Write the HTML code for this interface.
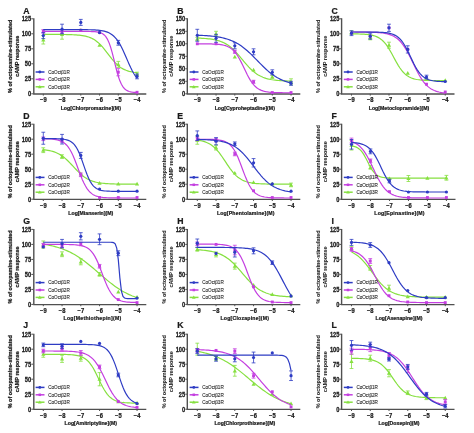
<!DOCTYPE html>
<html><head><meta charset="utf-8"><style>
html,body{margin:0;padding:0;background:#fff;}
svg{display:block;font-family:"Liberation Sans", sans-serif;filter:blur(0.3px);} text.b{stroke:#1a1a1a;stroke-width:0.22px;} text.m{stroke:#1a1a1a;stroke-width:0.04px;} text.l{stroke:#2a2a2a;stroke-width:0.1px;}
</style></head><body>
<svg width="474" height="433" viewBox="0 0 474 433">
<rect width="474" height="433" fill="#fff"/>
<g><text x="23.3" y="13.7" font-size="8.7" font-weight="bold" class="b" fill="#1a1a1a">A</text><text transform="translate(11.7 56.3) rotate(-90) scale(1 1.12)" text-anchor="middle" font-size="5.5" font-weight="bold" class="b" fill="#1a1a1a">% of octopamine-stimulated</text><text transform="translate(18.6 56.3) rotate(-90) scale(1 1.12)" text-anchor="middle" font-size="5.5" font-weight="bold" class="b" fill="#1a1a1a">cAMP response</text><line x1="31.3" y1="93.8" x2="33.3" y2="93.8" stroke="#505050" stroke-width="1"/><text transform="translate(31.2 96.1) scale(1 1.18)" text-anchor="end" font-size="5.7" font-weight="bold" class="b" fill="#1a1a1a">0</text><line x1="31.3" y1="78.8" x2="33.3" y2="78.8" stroke="#505050" stroke-width="1"/><text transform="translate(31.2 81.1) scale(1 1.18)" text-anchor="end" font-size="5.7" font-weight="bold" class="b" fill="#1a1a1a">25</text><line x1="31.3" y1="63.8" x2="33.3" y2="63.8" stroke="#505050" stroke-width="1"/><text transform="translate(31.2 66.1) scale(1 1.18)" text-anchor="end" font-size="5.7" font-weight="bold" class="b" fill="#1a1a1a">50</text><line x1="31.3" y1="48.8" x2="33.3" y2="48.8" stroke="#505050" stroke-width="1"/><text transform="translate(31.2 51.1) scale(1 1.18)" text-anchor="end" font-size="5.7" font-weight="bold" class="b" fill="#1a1a1a">75</text><line x1="31.3" y1="33.8" x2="33.3" y2="33.8" stroke="#505050" stroke-width="1"/><text transform="translate(31.2 36.1) scale(1 1.18)" text-anchor="end" font-size="5.7" font-weight="bold" class="b" fill="#1a1a1a">100</text><line x1="31.3" y1="18.8" x2="33.3" y2="18.8" stroke="#505050" stroke-width="1"/><text transform="translate(31.2 21.1) scale(1 1.18)" text-anchor="end" font-size="5.7" font-weight="bold" class="b" fill="#1a1a1a">125</text><line x1="43.3" y1="93.8" x2="43.3" y2="95.6" stroke="#505050" stroke-width="1"/><text transform="translate(43.3 102.4) scale(1 1.12)" text-anchor="middle" font-size="5.8" font-weight="bold" class="b" fill="#1a1a1a">−9</text><line x1="62.05" y1="93.8" x2="62.05" y2="95.6" stroke="#505050" stroke-width="1"/><text transform="translate(62.05 102.4) scale(1 1.12)" text-anchor="middle" font-size="5.8" font-weight="bold" class="b" fill="#1a1a1a">−8</text><line x1="80.8" y1="93.8" x2="80.8" y2="95.6" stroke="#505050" stroke-width="1"/><text transform="translate(80.8 102.4) scale(1 1.12)" text-anchor="middle" font-size="5.8" font-weight="bold" class="b" fill="#1a1a1a">−7</text><line x1="99.55" y1="93.8" x2="99.55" y2="95.6" stroke="#505050" stroke-width="1"/><text transform="translate(99.55 102.4) scale(1 1.12)" text-anchor="middle" font-size="5.8" font-weight="bold" class="b" fill="#1a1a1a">−6</text><line x1="118.3" y1="93.8" x2="118.3" y2="95.6" stroke="#505050" stroke-width="1"/><text transform="translate(118.3 102.4) scale(1 1.12)" text-anchor="middle" font-size="5.8" font-weight="bold" class="b" fill="#1a1a1a">−5</text><line x1="137.05" y1="93.8" x2="137.05" y2="95.6" stroke="#505050" stroke-width="1"/><text transform="translate(137.05 102.4) scale(1 1.12)" text-anchor="middle" font-size="5.8" font-weight="bold" class="b" fill="#1a1a1a">−4</text><text transform="translate(90.78 109.6) scale(1 1.1)" text-anchor="middle" font-size="5.2" letter-spacing="0" font-weight="bold" class="b" fill="#1a1a1a">Log[Chlorpromazine](M)</text><path d="M33.8 18.3V94H146.3" fill="none" stroke="#505050" stroke-width="1.4"/><path d="M43.3 34.41L44.86 34.41L46.42 34.41L47.99 34.41L49.55 34.41L51.11 34.42L52.67 34.42L54.24 34.43L55.8 34.43L57.36 34.44L58.93 34.45L60.49 34.46L62.05 34.48L63.61 34.5L65.18 34.52L66.74 34.55L68.3 34.58L69.86 34.62L71.42 34.68L72.99 34.74L74.55 34.82L76.11 34.92L77.67 35.04L79.24 35.19L80.8 35.37L82.36 35.59L83.92 35.86L85.49 36.18L87.05 36.58L88.61 37.05L90.17 37.63L91.74 38.31L93.3 39.11L94.86 40.06L96.43 41.16L97.99 42.42L99.55 43.85L101.11 45.44L102.67 47.19L104.24 49.06L105.8 51.04L107.36 53.08L108.92 55.13L110.49 57.16L112.05 59.12L113.61 60.97L115.18 62.69L116.74 64.25L118.3 65.64L119.86 66.87L121.42 67.94L122.99 68.86L124.55 69.64L126.11 70.3L127.67 70.85L129.24 71.31L130.8 71.69L132.36 72L133.93 72.26L135.49 72.47L137.05 72.65" fill="none" stroke="#86e040" stroke-width="1.2"/><path d="M43.3 35.6V44M41.4 35.6H45.2M41.4 44H45.2" stroke="#86e040" stroke-width="0.8" fill="none"/><path d="M43.3 37.72L45.38 41.4L41.22 41.4Z" fill="#86e040"/><path d="M62.05 29.6V39.2M60.15 29.6H63.95M60.15 39.2H63.95" stroke="#86e040" stroke-width="0.8" fill="none"/><path d="M62.05 32.32L64.13 36L59.97 36Z" fill="#86e040"/><path d="M80.8 28.12L82.88 31.8L78.72 31.8Z" fill="#86e040"/><path d="M99.55 43.12L101.63 46.8L97.47 46.8Z" fill="#86e040"/><path d="M118.3 61.4V67.4M116.4 61.4H120.2M116.4 67.4H120.2" stroke="#86e040" stroke-width="0.8" fill="none"/><path d="M118.3 62.32L120.38 66L116.22 66Z" fill="#86e040"/><path d="M137.05 72.2V75.8M135.15 72.2H138.95M135.15 75.8H138.95" stroke="#86e040" stroke-width="0.8" fill="none"/><path d="M137.05 71.92L139.13 75.6L134.97 75.6Z" fill="#86e040"/><path d="M43.3 31.4L44.86 31.4L46.42 31.4L47.99 31.4L49.55 31.4L51.11 31.4L52.67 31.4L54.24 31.4L55.8 31.4L57.36 31.4L58.93 31.4L60.49 31.4L62.05 31.4L63.61 31.4L65.18 31.4L66.74 31.4L68.3 31.4L69.86 31.4L71.42 31.4L72.99 31.4L74.55 31.4L76.11 31.4L77.67 31.4L79.24 31.4L80.8 31.41L82.36 31.41L83.92 31.42L85.49 31.42L87.05 31.44L88.61 31.46L90.17 31.48L91.74 31.53L93.3 31.6L94.86 31.7L96.43 31.85L97.99 32.09L99.55 32.45L101.11 32.98L102.67 33.78L104.24 34.95L105.8 36.66L107.36 39.08L108.92 42.39L110.49 46.71L112.05 52.04L113.61 58.15L115.18 64.58L116.74 70.79L118.3 76.3L119.86 80.83L121.42 84.34L122.99 86.92L124.55 88.75L126.11 90.02L127.67 90.88L129.24 91.46L130.8 91.85L132.36 92.11L133.93 92.28L135.49 92.39L137.05 92.46" fill="none" stroke="#c43fe0" stroke-width="1.2"/><path d="M43.3 29.6V33.2M41.4 29.6H45.2M41.4 33.2H45.2" stroke="#c43fe0" stroke-width="0.8" fill="none"/><rect x="41.86" y="29.96" width="2.88" height="2.88" fill="#c43fe0"/><path d="M62.05 29.6V33.2M60.15 29.6H63.95M60.15 33.2H63.95" stroke="#c43fe0" stroke-width="0.8" fill="none"/><rect x="60.61" y="29.96" width="2.88" height="2.88" fill="#c43fe0"/><rect x="79.36" y="28.76" width="2.88" height="2.88" fill="#c43fe0"/><rect x="98.11" y="31.16" width="2.88" height="2.88" fill="#c43fe0"/><path d="M118.3 68.6V75.8M116.4 68.6H120.2M116.4 75.8H120.2" stroke="#c43fe0" stroke-width="0.8" fill="none"/><rect x="116.86" y="70.76" width="2.88" height="2.88" fill="#c43fe0"/><rect x="135.61" y="90.86" width="2.88" height="2.88" fill="#c43fe0"/><path d="M43.3 29.6L44.86 29.6L46.42 29.6L47.99 29.6L49.55 29.6L51.11 29.6L52.67 29.6L54.24 29.6L55.8 29.6L57.36 29.6L58.93 29.6L60.49 29.6L62.05 29.6L63.61 29.6L65.18 29.6L66.74 29.6L68.3 29.61L69.86 29.61L71.42 29.61L72.99 29.61L74.55 29.61L76.11 29.62L77.67 29.62L79.24 29.63L80.8 29.64L82.36 29.65L83.92 29.66L85.49 29.68L87.05 29.7L88.61 29.73L90.17 29.77L91.74 29.82L93.3 29.88L94.86 29.96L96.43 30.06L97.99 30.19L99.55 30.35L101.11 30.56L102.67 30.82L104.24 31.16L105.8 31.59L107.36 32.13L108.92 32.8L110.49 33.65L112.05 34.69L113.61 35.98L115.18 37.54L116.74 39.41L118.3 41.61L119.86 44.16L121.42 47.05L122.99 50.24L124.55 53.67L126.11 57.25L127.67 60.87L129.24 64.43L130.8 67.82L132.36 70.95L133.93 73.78L135.49 76.26L137.05 78.39" fill="none" stroke="#2e3cc4" stroke-width="1.2"/><path d="M43.3 32.6V38.6M41.4 32.6H45.2M41.4 38.6H45.2" stroke="#2e3cc4" stroke-width="0.8" fill="none"/><circle cx="43.3" cy="35.6" r="1.6" fill="#2e3cc4"/><path d="M62.05 24.2V33.8M60.15 24.2H63.95M60.15 33.8H63.95" stroke="#2e3cc4" stroke-width="0.8" fill="none"/><circle cx="62.05" cy="29" r="1.6" fill="#2e3cc4"/><path d="M80.8 19.4V25.4M78.9 19.4H82.7M78.9 25.4H82.7" stroke="#2e3cc4" stroke-width="0.8" fill="none"/><circle cx="80.8" cy="22.4" r="1.6" fill="#2e3cc4"/><circle cx="99.55" cy="32.6" r="1.6" fill="#2e3cc4"/><path d="M118.3 40.4V45.2M116.4 40.4H120.2M116.4 45.2H120.2" stroke="#2e3cc4" stroke-width="0.8" fill="none"/><circle cx="118.3" cy="42.8" r="1.6" fill="#2e3cc4"/><path d="M137.05 74V78.8M135.15 74H138.95M135.15 78.8H138.95" stroke="#2e3cc4" stroke-width="0.8" fill="none"/><circle cx="137.05" cy="76.4" r="1.6" fill="#2e3cc4"/><line x1="35.6" y1="72" x2="44.5" y2="72" stroke="#2e3cc4" stroke-width="1.5"/><circle cx="39.8" cy="72" r="1.4" fill="#2e3cc4"/><text x="48.2" y="73.7" font-size="4.6" fill="#2a2a2a" class="l">CoOctβ1R</text><line x1="35.6" y1="79.4" x2="44.5" y2="79.4" stroke="#c43fe0" stroke-width="1.5"/><rect x="38.54" y="78.14" width="2.52" height="2.52" fill="#c43fe0"/><text x="48.2" y="81.1" font-size="4.6" fill="#2a2a2a" class="l">CoOctβ2R</text><line x1="35.6" y1="86.8" x2="44.5" y2="86.8" stroke="#86e040" stroke-width="1.5"/><path d="M39.8 84.98L41.62 88.2L37.98 88.2Z" fill="#86e040"/><text x="48.2" y="88.5" font-size="4.6" fill="#2a2a2a" class="l">CoOctβ3R</text></g><g><text x="177.3" y="13.7" font-size="8.7" font-weight="bold" class="b" fill="#1a1a1a">B</text><text transform="translate(165.7 56.3) rotate(-90) scale(1 1.12)" text-anchor="middle" font-size="5.5" font-weight="bold" class="m" fill="#1a1a1a">% of octopamine-stimulated</text><text transform="translate(172.6 56.3) rotate(-90) scale(1 1.12)" text-anchor="middle" font-size="5.5" font-weight="bold" class="m" fill="#1a1a1a">cAMP response</text><line x1="185.3" y1="93.8" x2="187.3" y2="93.8" stroke="#505050" stroke-width="1"/><text transform="translate(185.2 96.1) scale(1 1.18)" text-anchor="end" font-size="5.7" font-weight="bold" class="b" fill="#1a1a1a">0</text><line x1="185.3" y1="81.3" x2="187.3" y2="81.3" stroke="#505050" stroke-width="1"/><text transform="translate(185.2 83.6) scale(1 1.18)" text-anchor="end" font-size="5.7" font-weight="bold" class="b" fill="#1a1a1a">25</text><line x1="185.3" y1="68.8" x2="187.3" y2="68.8" stroke="#505050" stroke-width="1"/><text transform="translate(185.2 71.1) scale(1 1.18)" text-anchor="end" font-size="5.7" font-weight="bold" class="b" fill="#1a1a1a">50</text><line x1="185.3" y1="56.3" x2="187.3" y2="56.3" stroke="#505050" stroke-width="1"/><text transform="translate(185.2 58.6) scale(1 1.18)" text-anchor="end" font-size="5.7" font-weight="bold" class="b" fill="#1a1a1a">75</text><line x1="185.3" y1="43.8" x2="187.3" y2="43.8" stroke="#505050" stroke-width="1"/><text transform="translate(185.2 46.1) scale(1 1.18)" text-anchor="end" font-size="5.7" font-weight="bold" class="b" fill="#1a1a1a">100</text><line x1="185.3" y1="31.3" x2="187.3" y2="31.3" stroke="#505050" stroke-width="1"/><text transform="translate(185.2 33.6) scale(1 1.18)" text-anchor="end" font-size="5.7" font-weight="bold" class="b" fill="#1a1a1a">125</text><line x1="185.3" y1="18.8" x2="187.3" y2="18.8" stroke="#505050" stroke-width="1"/><text transform="translate(185.2 21.1) scale(1 1.18)" text-anchor="end" font-size="5.7" font-weight="bold" class="b" fill="#1a1a1a">150</text><line x1="197.3" y1="93.8" x2="197.3" y2="95.6" stroke="#505050" stroke-width="1"/><text transform="translate(197.3 102.4) scale(1 1.12)" text-anchor="middle" font-size="5.8" font-weight="bold" class="b" fill="#1a1a1a">−9</text><line x1="216.05" y1="93.8" x2="216.05" y2="95.6" stroke="#505050" stroke-width="1"/><text transform="translate(216.05 102.4) scale(1 1.12)" text-anchor="middle" font-size="5.8" font-weight="bold" class="b" fill="#1a1a1a">−8</text><line x1="234.8" y1="93.8" x2="234.8" y2="95.6" stroke="#505050" stroke-width="1"/><text transform="translate(234.8 102.4) scale(1 1.12)" text-anchor="middle" font-size="5.8" font-weight="bold" class="b" fill="#1a1a1a">−7</text><line x1="253.55" y1="93.8" x2="253.55" y2="95.6" stroke="#505050" stroke-width="1"/><text transform="translate(253.55 102.4) scale(1 1.12)" text-anchor="middle" font-size="5.8" font-weight="bold" class="b" fill="#1a1a1a">−6</text><line x1="272.3" y1="93.8" x2="272.3" y2="95.6" stroke="#505050" stroke-width="1"/><text transform="translate(272.3 102.4) scale(1 1.12)" text-anchor="middle" font-size="5.8" font-weight="bold" class="b" fill="#1a1a1a">−5</text><line x1="291.05" y1="93.8" x2="291.05" y2="95.6" stroke="#505050" stroke-width="1"/><text transform="translate(291.05 102.4) scale(1 1.12)" text-anchor="middle" font-size="5.8" font-weight="bold" class="b" fill="#1a1a1a">−4</text><text transform="translate(244.78 109.6) scale(1 1.1)" text-anchor="middle" font-size="5.2" letter-spacing="0" font-weight="bold" class="b" fill="#1a1a1a">Log[Cyproheptadine](M)</text><path d="M187.3 18.3V94H300.3" fill="none" stroke="#505050" stroke-width="1.4"/><path d="M197.3 38.1L198.86 38.15L200.43 38.22L201.99 38.3L203.55 38.39L205.11 38.5L206.68 38.63L208.24 38.79L209.8 38.97L211.36 39.18L212.93 39.43L214.49 39.72L216.05 40.07L217.61 40.47L219.18 40.93L220.74 41.47L222.3 42.1L223.86 42.82L225.43 43.63L226.99 44.56L228.55 45.61L230.11 46.78L231.68 48.07L233.24 49.49L234.8 51.02L236.36 52.66L237.93 54.39L239.49 56.2L241.05 58.05L242.61 59.93L244.18 61.8L245.74 63.63L247.3 65.41L248.86 67.11L250.43 68.71L251.99 70.2L253.55 71.56L255.11 72.81L256.68 73.92L258.24 74.92L259.8 75.81L261.36 76.58L262.93 77.26L264.49 77.85L266.05 78.36L267.61 78.8L269.18 79.18L270.74 79.5L272.3 79.78L273.86 80.01L275.43 80.21L276.99 80.38L278.55 80.52L280.11 80.64L281.68 80.75L283.24 80.83L284.8 80.91L286.36 80.97L287.93 81.02L289.49 81.06L291.05 81.1" fill="none" stroke="#86e040" stroke-width="1.2"/><path d="M197.3 37.3V40.3M195.4 37.3H199.2M195.4 40.3H199.2" stroke="#86e040" stroke-width="0.8" fill="none"/><path d="M197.3 36.72L199.38 40.4L195.22 40.4Z" fill="#86e040"/><path d="M216.05 31.3V36.3M214.15 31.3H217.95M214.15 36.3H217.95" stroke="#86e040" stroke-width="0.8" fill="none"/><path d="M216.05 31.72L218.13 35.4L213.97 35.4Z" fill="#86e040"/><path d="M234.8 54.72L236.88 58.4L232.72 58.4Z" fill="#86e040"/><path d="M253.55 67.72L255.63 71.4L251.47 71.4Z" fill="#86e040"/><path d="M272.3 75.3V78.3M270.4 75.3H274.2M270.4 78.3H274.2" stroke="#86e040" stroke-width="0.8" fill="none"/><path d="M272.3 74.72L274.38 78.4L270.22 78.4Z" fill="#86e040"/><path d="M291.05 78.8V84.8M289.15 78.8H292.95M289.15 84.8H292.95" stroke="#86e040" stroke-width="0.8" fill="none"/><path d="M291.05 79.72L293.13 83.4L288.97 83.4Z" fill="#86e040"/><path d="M197.3 43.82L198.86 43.82L200.43 43.83L201.99 43.83L203.55 43.85L205.11 43.86L206.68 43.88L208.24 43.9L209.8 43.93L211.36 43.97L212.93 44.03L214.49 44.1L216.05 44.19L217.61 44.3L219.18 44.46L220.74 44.66L222.3 44.91L223.86 45.25L225.43 45.68L226.99 46.23L228.55 46.93L230.11 47.81L231.68 48.92L233.24 50.28L234.8 51.95L236.36 53.94L237.93 56.27L239.49 58.93L241.05 61.87L242.61 65.03L244.18 68.3L245.74 71.57L247.3 74.73L248.86 77.67L250.43 80.33L251.99 82.66L253.55 84.65L255.11 86.32L256.68 87.68L258.24 88.79L259.8 89.67L261.36 90.37L262.93 90.92L264.49 91.35L266.05 91.69L267.61 91.94L269.18 92.14L270.74 92.3L272.3 92.41L273.86 92.5L275.43 92.57L276.99 92.63L278.55 92.67L280.11 92.7L281.68 92.72L283.24 92.74L284.8 92.75L286.36 92.77L287.93 92.77L289.49 92.78L291.05 92.78" fill="none" stroke="#c43fe0" stroke-width="1.2"/><rect x="195.86" y="42.36" width="2.88" height="2.88" fill="#c43fe0"/><rect x="214.61" y="42.36" width="2.88" height="2.88" fill="#c43fe0"/><path d="M234.8 50.3V53.3M232.9 50.3H236.7M232.9 53.3H236.7" stroke="#c43fe0" stroke-width="0.8" fill="none"/><rect x="233.36" y="50.36" width="2.88" height="2.88" fill="#c43fe0"/><path d="M253.55 80.3V83.3M251.65 80.3H255.45M251.65 83.3H255.45" stroke="#c43fe0" stroke-width="0.8" fill="none"/><rect x="252.11" y="80.36" width="2.88" height="2.88" fill="#c43fe0"/><rect x="270.86" y="91.11" width="2.88" height="2.88" fill="#c43fe0"/><rect x="289.61" y="91.11" width="2.88" height="2.88" fill="#c43fe0"/><path d="M197.3 35.22L198.86 35.28L200.43 35.34L201.99 35.42L203.55 35.5L205.11 35.59L206.68 35.69L208.24 35.81L209.8 35.94L211.36 36.08L212.93 36.25L214.49 36.44L216.05 36.64L217.61 36.88L219.18 37.14L220.74 37.44L222.3 37.77L223.86 38.14L225.43 38.55L226.99 39.01L228.55 39.51L230.11 40.08L231.68 40.7L233.24 41.38L234.8 42.13L236.36 42.95L237.93 43.84L239.49 44.81L241.05 45.85L242.61 46.98L244.18 48.17L245.74 49.44L247.3 50.79L248.86 52.19L250.43 53.66L251.99 55.17L253.55 56.72L255.11 58.31L256.68 59.91L258.24 61.51L259.8 63.11L261.36 64.69L262.93 66.24L264.49 67.74L266.05 69.19L267.61 70.59L269.18 71.92L270.74 73.17L272.3 74.35L273.86 75.46L275.43 76.49L276.99 77.44L278.55 78.32L280.11 79.13L281.68 79.86L283.24 80.53L284.8 81.14L286.36 81.69L287.93 82.19L289.49 82.64L291.05 83.04" fill="none" stroke="#2e3cc4" stroke-width="1.2"/><path d="M197.3 29.3V41.3M195.4 29.3H199.2M195.4 41.3H199.2" stroke="#2e3cc4" stroke-width="0.8" fill="none"/><circle cx="197.3" cy="35.3" r="1.6" fill="#2e3cc4"/><path d="M216.05 34.3V42.3M214.15 34.3H217.95M214.15 42.3H217.95" stroke="#2e3cc4" stroke-width="0.8" fill="none"/><circle cx="216.05" cy="38.3" r="1.6" fill="#2e3cc4"/><path d="M234.8 42.8V48.8M232.9 42.8H236.7M232.9 48.8H236.7" stroke="#2e3cc4" stroke-width="0.8" fill="none"/><circle cx="234.8" cy="45.8" r="1.6" fill="#2e3cc4"/><path d="M253.55 48.8V54.8M251.65 48.8H255.45M251.65 54.8H255.45" stroke="#2e3cc4" stroke-width="0.8" fill="none"/><circle cx="253.55" cy="51.8" r="1.6" fill="#2e3cc4"/><path d="M272.3 69.8V74.8M270.4 69.8H274.2M270.4 74.8H274.2" stroke="#2e3cc4" stroke-width="0.8" fill="none"/><circle cx="272.3" cy="72.3" r="1.6" fill="#2e3cc4"/><path d="M291.05 81.3V85.3M289.15 81.3H292.95M289.15 85.3H292.95" stroke="#2e3cc4" stroke-width="0.8" fill="none"/><circle cx="291.05" cy="83.3" r="1.6" fill="#2e3cc4"/><line x1="189.6" y1="72" x2="198.5" y2="72" stroke="#2e3cc4" stroke-width="1.5"/><circle cx="193.8" cy="72" r="1.4" fill="#2e3cc4"/><text x="202.2" y="73.7" font-size="4.6" fill="#2a2a2a" class="l">CoOctβ1R</text><line x1="189.6" y1="79.4" x2="198.5" y2="79.4" stroke="#c43fe0" stroke-width="1.5"/><rect x="192.54" y="78.14" width="2.52" height="2.52" fill="#c43fe0"/><text x="202.2" y="81.1" font-size="4.6" fill="#2a2a2a" class="l">CoOctβ2R</text><line x1="189.6" y1="86.8" x2="198.5" y2="86.8" stroke="#86e040" stroke-width="1.5"/><path d="M193.8 84.98L195.62 88.2L191.98 88.2Z" fill="#86e040"/><text x="202.2" y="88.5" font-size="4.6" fill="#2a2a2a" class="l">CoOctβ3R</text></g><g><text x="331.5" y="13.7" font-size="8.7" font-weight="bold" class="b" fill="#1a1a1a">C</text><text transform="translate(319.9 56.3) rotate(-90) scale(1 1.12)" text-anchor="middle" font-size="5.5" font-weight="bold" class="m" fill="#1a1a1a">% of octopamine-stimulated</text><text transform="translate(326.8 56.3) rotate(-90) scale(1 1.12)" text-anchor="middle" font-size="5.5" font-weight="bold" class="m" fill="#1a1a1a">cAMP response</text><line x1="339.5" y1="93.8" x2="341.5" y2="93.8" stroke="#505050" stroke-width="1"/><text transform="translate(339.4 96.1) scale(1 1.18)" text-anchor="end" font-size="5.7" font-weight="bold" class="b" fill="#1a1a1a">0</text><line x1="339.5" y1="78.8" x2="341.5" y2="78.8" stroke="#505050" stroke-width="1"/><text transform="translate(339.4 81.1) scale(1 1.18)" text-anchor="end" font-size="5.7" font-weight="bold" class="b" fill="#1a1a1a">25</text><line x1="339.5" y1="63.8" x2="341.5" y2="63.8" stroke="#505050" stroke-width="1"/><text transform="translate(339.4 66.1) scale(1 1.18)" text-anchor="end" font-size="5.7" font-weight="bold" class="b" fill="#1a1a1a">50</text><line x1="339.5" y1="48.8" x2="341.5" y2="48.8" stroke="#505050" stroke-width="1"/><text transform="translate(339.4 51.1) scale(1 1.18)" text-anchor="end" font-size="5.7" font-weight="bold" class="b" fill="#1a1a1a">75</text><line x1="339.5" y1="33.8" x2="341.5" y2="33.8" stroke="#505050" stroke-width="1"/><text transform="translate(339.4 36.1) scale(1 1.18)" text-anchor="end" font-size="5.7" font-weight="bold" class="b" fill="#1a1a1a">100</text><line x1="339.5" y1="18.8" x2="341.5" y2="18.8" stroke="#505050" stroke-width="1"/><text transform="translate(339.4 21.1) scale(1 1.18)" text-anchor="end" font-size="5.7" font-weight="bold" class="b" fill="#1a1a1a">125</text><line x1="351.5" y1="93.8" x2="351.5" y2="95.6" stroke="#505050" stroke-width="1"/><text transform="translate(351.5 102.4) scale(1 1.12)" text-anchor="middle" font-size="5.8" font-weight="bold" class="b" fill="#1a1a1a">−9</text><line x1="370.25" y1="93.8" x2="370.25" y2="95.6" stroke="#505050" stroke-width="1"/><text transform="translate(370.25 102.4) scale(1 1.12)" text-anchor="middle" font-size="5.8" font-weight="bold" class="b" fill="#1a1a1a">−8</text><line x1="389" y1="93.8" x2="389" y2="95.6" stroke="#505050" stroke-width="1"/><text transform="translate(389 102.4) scale(1 1.12)" text-anchor="middle" font-size="5.8" font-weight="bold" class="b" fill="#1a1a1a">−7</text><line x1="407.75" y1="93.8" x2="407.75" y2="95.6" stroke="#505050" stroke-width="1"/><text transform="translate(407.75 102.4) scale(1 1.12)" text-anchor="middle" font-size="5.8" font-weight="bold" class="b" fill="#1a1a1a">−6</text><line x1="426.5" y1="93.8" x2="426.5" y2="95.6" stroke="#505050" stroke-width="1"/><text transform="translate(426.5 102.4) scale(1 1.12)" text-anchor="middle" font-size="5.8" font-weight="bold" class="b" fill="#1a1a1a">−5</text><line x1="445.25" y1="93.8" x2="445.25" y2="95.6" stroke="#505050" stroke-width="1"/><text transform="translate(445.25 102.4) scale(1 1.12)" text-anchor="middle" font-size="5.8" font-weight="bold" class="b" fill="#1a1a1a">−4</text><text transform="translate(398.98 109.6) scale(1 1.1)" text-anchor="middle" font-size="5.2" letter-spacing="0" font-weight="bold" class="b" fill="#1a1a1a">Log[Metoclopramide](M)</text><path d="M341.6 18.3V94H454.5" fill="none" stroke="#505050" stroke-width="1.4"/><path d="M351.5 33.86L353.06 33.87L354.62 33.89L356.19 33.92L357.75 33.95L359.31 33.99L360.88 34.05L362.44 34.12L364 34.21L365.56 34.32L367.12 34.46L368.69 34.65L370.25 34.88L371.81 35.18L373.38 35.56L374.94 36.03L376.5 36.63L378.06 37.37L379.62 38.28L381.19 39.4L382.75 40.75L384.31 42.36L385.88 44.24L387.44 46.41L389 48.83L390.56 51.48L392.12 54.3L393.69 57.2L395.25 60.1L396.81 62.92L398.38 65.57L399.94 67.99L401.5 70.16L403.06 72.04L404.62 73.65L406.19 75L407.75 76.12L409.31 77.03L410.88 77.77L412.44 78.37L414 78.84L415.56 79.22L417.12 79.52L418.69 79.75L420.25 79.94L421.81 80.08L423.38 80.19L424.94 80.28L426.5 80.35L428.06 80.41L429.62 80.45L431.19 80.48L432.75 80.51L434.31 80.53L435.88 80.54L437.44 80.56L439 80.57L440.56 80.57L442.12 80.58L443.69 80.58L445.25 80.59" fill="none" stroke="#86e040" stroke-width="1.2"/><path d="M351.5 30.8V34.4M349.6 30.8H353.4M349.6 34.4H353.4" stroke="#86e040" stroke-width="0.8" fill="none"/><path d="M351.5 30.52L353.58 34.2L349.42 34.2Z" fill="#86e040"/><path d="M370.25 35V39.8M368.35 35H372.15M368.35 39.8H372.15" stroke="#86e040" stroke-width="0.8" fill="none"/><path d="M370.25 35.32L372.33 39L368.17 39Z" fill="#86e040"/><path d="M389 42.2V48.2M387.1 42.2H390.9M387.1 48.2H390.9" stroke="#86e040" stroke-width="0.8" fill="none"/><path d="M389 43.12L391.08 46.8L386.92 46.8Z" fill="#86e040"/><path d="M407.75 71.02L409.83 74.7L405.67 74.7Z" fill="#86e040"/><path d="M426.5 76.12L428.58 79.8L424.42 79.8Z" fill="#86e040"/><path d="M445.25 78.16L447.33 81.84L443.17 81.84Z" fill="#86e040"/><path d="M351.5 32.02L353.06 32.02L354.62 32.02L356.19 32.03L357.75 32.04L359.31 32.04L360.88 32.05L362.44 32.07L364 32.08L365.56 32.1L367.12 32.13L368.69 32.15L370.25 32.19L371.81 32.24L373.38 32.29L374.94 32.36L376.5 32.44L378.06 32.55L379.62 32.67L381.19 32.83L382.75 33.02L384.31 33.26L385.88 33.54L387.44 33.9L389 34.32L390.56 34.85L392.12 35.48L393.69 36.24L395.25 37.15L396.81 38.24L398.38 39.53L399.94 41.04L401.5 42.79L403.06 44.8L404.62 47.07L406.19 49.61L407.75 52.38L409.31 55.36L410.88 58.5L412.44 61.73L414 64.98L415.56 68.2L417.12 71.29L418.69 74.22L420.25 76.93L421.81 79.39L423.38 81.59L424.94 83.53L426.5 85.21L428.06 86.66L429.62 87.88L431.19 88.92L432.75 89.79L434.31 90.51L435.88 91.11L437.44 91.6L439 92.01L440.56 92.34L442.12 92.61L443.69 92.84L445.25 93.02" fill="none" stroke="#c43fe0" stroke-width="1.2"/><rect x="350.06" y="31.76" width="2.88" height="2.88" fill="#c43fe0"/><rect x="368.81" y="34.76" width="2.88" height="2.88" fill="#c43fe0"/><rect x="387.56" y="26.36" width="2.88" height="2.88" fill="#c43fe0"/><rect x="406.31" y="47.96" width="2.88" height="2.88" fill="#c43fe0"/><rect x="425.06" y="82.76" width="2.88" height="2.88" fill="#c43fe0"/><rect x="443.81" y="90.56" width="2.88" height="2.88" fill="#c43fe0"/><path d="M351.5 32L353.06 32L354.62 32L356.19 32L357.75 32.01L359.31 32.01L360.88 32.01L362.44 32.01L364 32.02L365.56 32.02L367.12 32.03L368.69 32.04L370.25 32.05L371.81 32.06L373.38 32.08L374.94 32.11L376.5 32.14L378.06 32.19L379.62 32.24L381.19 32.32L382.75 32.41L384.31 32.54L385.88 32.7L387.44 32.92L389 33.19L390.56 33.55L392.12 34.01L393.69 34.59L395.25 35.34L396.81 36.28L398.38 37.46L399.94 38.9L401.5 40.66L403.06 42.75L404.62 45.19L406.19 47.95L407.75 50.99L409.31 54.23L410.88 57.57L412.44 60.88L414 64.05L415.56 66.99L417.12 69.62L418.69 71.92L420.25 73.88L421.81 75.51L423.38 76.84L424.94 77.92L426.5 78.78L428.06 79.46L429.62 79.99L431.19 80.4L432.75 80.73L434.31 80.97L435.88 81.17L437.44 81.31L439 81.43L440.56 81.52L442.12 81.58L443.69 81.63L445.25 81.67" fill="none" stroke="#2e3cc4" stroke-width="1.2"/><path d="M351.5 30.8V35.6M349.6 30.8H353.4M349.6 35.6H353.4" stroke="#2e3cc4" stroke-width="0.8" fill="none"/><circle cx="351.5" cy="33.2" r="1.6" fill="#2e3cc4"/><path d="M370.25 33.2V39.2M368.35 33.2H372.15M368.35 39.2H372.15" stroke="#2e3cc4" stroke-width="0.8" fill="none"/><circle cx="370.25" cy="36.2" r="1.6" fill="#2e3cc4"/><path d="M389 24.2V31.4M387.1 24.2H390.9M387.1 31.4H390.9" stroke="#2e3cc4" stroke-width="0.8" fill="none"/><circle cx="389" cy="27.8" r="1.6" fill="#2e3cc4"/><path d="M407.75 45.8V53M405.85 45.8H409.65M405.85 53H409.65" stroke="#2e3cc4" stroke-width="0.8" fill="none"/><circle cx="407.75" cy="49.4" r="1.6" fill="#2e3cc4"/><path d="M426.5 75.2V78.8M424.6 75.2H428.4M424.6 78.8H428.4" stroke="#2e3cc4" stroke-width="0.8" fill="none"/><circle cx="426.5" cy="77" r="1.6" fill="#2e3cc4"/><circle cx="445.25" cy="81.5" r="1.6" fill="#2e3cc4"/><line x1="343.8" y1="72" x2="352.7" y2="72" stroke="#2e3cc4" stroke-width="1.5"/><circle cx="348" cy="72" r="1.4" fill="#2e3cc4"/><text x="356.4" y="73.7" font-size="4.6" fill="#2a2a2a" class="l">CoOctβ1R</text><line x1="343.8" y1="79.4" x2="352.7" y2="79.4" stroke="#c43fe0" stroke-width="1.5"/><rect x="346.74" y="78.14" width="2.52" height="2.52" fill="#c43fe0"/><text x="356.4" y="81.1" font-size="4.6" fill="#2a2a2a" class="l">CoOctβ2R</text><line x1="343.8" y1="86.8" x2="352.7" y2="86.8" stroke="#86e040" stroke-width="1.5"/><path d="M348 84.98L349.82 88.2L346.18 88.2Z" fill="#86e040"/><text x="356.4" y="88.5" font-size="4.6" fill="#2a2a2a" class="l">CoOctβ3R</text></g><g><text x="23.3" y="118.8" font-size="8.7" font-weight="bold" class="b" fill="#1a1a1a">D</text><text transform="translate(11.7 161.7) rotate(-90) scale(1 1.12)" text-anchor="middle" font-size="5.5" font-weight="bold" class="b" fill="#1a1a1a">% of octopamine-stimulated</text><text transform="translate(18.6 161.7) rotate(-90) scale(1 1.12)" text-anchor="middle" font-size="5.5" font-weight="bold" class="b" fill="#1a1a1a">cAMP response</text><line x1="31.3" y1="199.2" x2="33.3" y2="199.2" stroke="#505050" stroke-width="1"/><text transform="translate(31.2 201.5) scale(1 1.18)" text-anchor="end" font-size="5.7" font-weight="bold" class="b" fill="#1a1a1a">0</text><line x1="31.3" y1="184.2" x2="33.3" y2="184.2" stroke="#505050" stroke-width="1"/><text transform="translate(31.2 186.5) scale(1 1.18)" text-anchor="end" font-size="5.7" font-weight="bold" class="b" fill="#1a1a1a">25</text><line x1="31.3" y1="169.2" x2="33.3" y2="169.2" stroke="#505050" stroke-width="1"/><text transform="translate(31.2 171.5) scale(1 1.18)" text-anchor="end" font-size="5.7" font-weight="bold" class="b" fill="#1a1a1a">50</text><line x1="31.3" y1="154.2" x2="33.3" y2="154.2" stroke="#505050" stroke-width="1"/><text transform="translate(31.2 156.5) scale(1 1.18)" text-anchor="end" font-size="5.7" font-weight="bold" class="b" fill="#1a1a1a">75</text><line x1="31.3" y1="139.2" x2="33.3" y2="139.2" stroke="#505050" stroke-width="1"/><text transform="translate(31.2 141.5) scale(1 1.18)" text-anchor="end" font-size="5.7" font-weight="bold" class="b" fill="#1a1a1a">100</text><line x1="31.3" y1="124.2" x2="33.3" y2="124.2" stroke="#505050" stroke-width="1"/><text transform="translate(31.2 126.5) scale(1 1.18)" text-anchor="end" font-size="5.7" font-weight="bold" class="b" fill="#1a1a1a">125</text><line x1="43.3" y1="199.2" x2="43.3" y2="201" stroke="#505050" stroke-width="1"/><text transform="translate(43.3 207.8) scale(1 1.12)" text-anchor="middle" font-size="5.8" font-weight="bold" class="b" fill="#1a1a1a">−9</text><line x1="62.05" y1="199.2" x2="62.05" y2="201" stroke="#505050" stroke-width="1"/><text transform="translate(62.05 207.8) scale(1 1.12)" text-anchor="middle" font-size="5.8" font-weight="bold" class="b" fill="#1a1a1a">−8</text><line x1="80.8" y1="199.2" x2="80.8" y2="201" stroke="#505050" stroke-width="1"/><text transform="translate(80.8 207.8) scale(1 1.12)" text-anchor="middle" font-size="5.8" font-weight="bold" class="b" fill="#1a1a1a">−7</text><line x1="99.55" y1="199.2" x2="99.55" y2="201" stroke="#505050" stroke-width="1"/><text transform="translate(99.55 207.8) scale(1 1.12)" text-anchor="middle" font-size="5.8" font-weight="bold" class="b" fill="#1a1a1a">−6</text><line x1="118.3" y1="199.2" x2="118.3" y2="201" stroke="#505050" stroke-width="1"/><text transform="translate(118.3 207.8) scale(1 1.12)" text-anchor="middle" font-size="5.8" font-weight="bold" class="b" fill="#1a1a1a">−5</text><line x1="137.05" y1="199.2" x2="137.05" y2="201" stroke="#505050" stroke-width="1"/><text transform="translate(137.05 207.8) scale(1 1.12)" text-anchor="middle" font-size="5.8" font-weight="bold" class="b" fill="#1a1a1a">−4</text><text transform="translate(90.78 215) scale(1 1.1)" text-anchor="middle" font-size="5.2" letter-spacing="0" font-weight="bold" class="b" fill="#1a1a1a">Log[Mianserin](M)</text><path d="M33.8 123.7V199.4H146.3" fill="none" stroke="#505050" stroke-width="1.4"/><path d="M43.3 149.67L44.86 149.85L46.42 150.06L47.99 150.31L49.55 150.62L51.11 150.98L52.67 151.4L54.24 151.91L55.8 152.5L57.36 153.18L58.93 153.97L60.49 154.88L62.05 155.91L63.61 157.06L65.18 158.34L66.74 159.73L68.3 161.23L69.86 162.82L71.42 164.47L72.99 166.16L74.55 167.86L76.11 169.53L77.67 171.14L79.24 172.68L80.8 174.12L82.36 175.44L83.92 176.65L85.49 177.72L87.05 178.68L88.61 179.52L90.17 180.24L91.74 180.87L93.3 181.4L94.86 181.86L96.43 182.25L97.99 182.57L99.55 182.84L101.11 183.07L102.67 183.27L104.24 183.42L105.8 183.56L107.36 183.67L108.92 183.76L110.49 183.84L112.05 183.9L113.61 183.95L115.18 183.99L116.74 184.03L118.3 184.06L119.86 184.08L121.42 184.1L122.99 184.12L124.55 184.13L126.11 184.15L127.67 184.16L129.24 184.16L130.8 184.17L132.36 184.17L133.93 184.18L135.49 184.18L137.05 184.19" fill="none" stroke="#86e040" stroke-width="1.2"/><path d="M43.3 147.78V152.58M41.4 147.78H45.2M41.4 152.58H45.2" stroke="#86e040" stroke-width="0.8" fill="none"/><path d="M43.3 148.1L45.38 151.78L41.22 151.78Z" fill="#86e040"/><path d="M62.05 154.8V158.4M60.15 154.8H63.95M60.15 158.4H63.95" stroke="#86e040" stroke-width="0.8" fill="none"/><path d="M62.05 154.52L64.13 158.2L59.97 158.2Z" fill="#86e040"/><path d="M80.8 171.62L82.88 175.3L78.72 175.3Z" fill="#86e040"/><path d="M99.55 181.04L101.63 184.72L97.47 184.72Z" fill="#86e040"/><path d="M118.3 181.82L120.38 185.5L116.22 185.5Z" fill="#86e040"/><path d="M137.05 181.82L139.13 185.5L134.97 185.5Z" fill="#86e040"/><path d="M43.3 138.7L44.86 138.73L46.42 138.78L47.99 138.84L49.55 138.91L51.11 139.02L52.67 139.16L54.24 139.34L55.8 139.58L57.36 139.9L58.93 140.32L60.49 140.87L62.05 141.59L63.61 142.53L65.18 143.72L66.74 145.24L68.3 147.14L69.86 149.47L71.42 152.26L72.99 155.51L74.55 159.2L76.11 163.22L77.67 167.45L79.24 171.7L80.8 175.83L82.36 179.66L83.92 183.1L85.49 186.07L87.05 188.58L88.61 190.65L90.17 192.31L91.74 193.63L93.3 194.66L94.86 195.46L96.43 196.07L97.99 196.54L99.55 196.9L101.11 197.17L102.67 197.38L104.24 197.53L105.8 197.65L107.36 197.74L108.92 197.8L110.49 197.85L112.05 197.89L113.61 197.92L115.18 197.94L116.74 197.95L118.3 197.96L119.86 197.97L121.42 197.98L122.99 197.99L124.55 197.99L126.11 197.99L127.67 197.99L129.24 198L130.8 198L132.36 198L133.93 198L135.49 198L137.05 198" fill="none" stroke="#c43fe0" stroke-width="1.2"/><path d="M43.3 136.98V140.58M41.4 136.98H45.2M41.4 140.58H45.2" stroke="#c43fe0" stroke-width="0.8" fill="none"/><rect x="41.86" y="137.34" width="2.88" height="2.88" fill="#c43fe0"/><path d="M62.05 138.72V142.32M60.15 138.72H63.95M60.15 142.32H63.95" stroke="#c43fe0" stroke-width="0.8" fill="none"/><rect x="60.61" y="139.08" width="2.88" height="2.88" fill="#c43fe0"/><path d="M80.8 172.98V176.58M78.9 172.98H82.7M78.9 176.58H82.7" stroke="#c43fe0" stroke-width="0.8" fill="none"/><rect x="79.36" y="173.34" width="2.88" height="2.88" fill="#c43fe0"/><rect x="98.11" y="196.08" width="2.88" height="2.88" fill="#c43fe0"/><rect x="116.86" y="196.08" width="2.88" height="2.88" fill="#c43fe0"/><rect x="135.61" y="196.08" width="2.88" height="2.88" fill="#c43fe0"/><path d="M43.3 138.61L44.86 138.61L46.42 138.61L47.99 138.62L49.55 138.63L51.11 138.64L52.67 138.66L54.24 138.68L55.8 138.71L57.36 138.76L58.93 138.82L60.49 138.92L62.05 139.05L63.61 139.23L65.18 139.48L66.74 139.84L68.3 140.33L69.86 141.01L71.42 141.94L72.99 143.2L74.55 144.88L76.11 147.05L77.67 149.8L79.24 153.14L80.8 157.05L82.36 161.38L83.92 165.91L85.49 170.39L87.05 174.57L88.61 178.27L90.17 181.37L91.74 183.88L93.3 185.85L94.86 187.35L96.43 188.46L97.99 189.29L99.55 189.89L101.11 190.32L102.67 190.63L104.24 190.85L105.8 191.01L107.36 191.12L108.92 191.2L110.49 191.26L112.05 191.3L113.61 191.33L115.18 191.35L116.74 191.37L118.3 191.38L119.86 191.38L121.42 191.39L122.99 191.39L124.55 191.39L126.11 191.4L127.67 191.4L129.24 191.4L130.8 191.4L132.36 191.4L133.93 191.4L135.49 191.4L137.05 191.4" fill="none" stroke="#2e3cc4" stroke-width="1.2"/><path d="M43.3 132.24V144.24M41.4 132.24H45.2M41.4 144.24H45.2" stroke="#2e3cc4" stroke-width="0.8" fill="none"/><circle cx="43.3" cy="138.24" r="1.6" fill="#2e3cc4"/><path d="M62.05 134.4V144M60.15 134.4H63.95M60.15 144H63.95" stroke="#2e3cc4" stroke-width="0.8" fill="none"/><circle cx="62.05" cy="139.2" r="1.6" fill="#2e3cc4"/><path d="M80.8 152.4V158.4M78.9 152.4H82.7M78.9 158.4H82.7" stroke="#2e3cc4" stroke-width="0.8" fill="none"/><circle cx="80.8" cy="155.4" r="1.6" fill="#2e3cc4"/><circle cx="99.55" cy="189" r="1.6" fill="#2e3cc4"/><circle cx="118.3" cy="191.22" r="1.6" fill="#2e3cc4"/><circle cx="137.05" cy="191.22" r="1.6" fill="#2e3cc4"/><line x1="35.6" y1="177.4" x2="44.5" y2="177.4" stroke="#2e3cc4" stroke-width="1.5"/><circle cx="39.8" cy="177.4" r="1.4" fill="#2e3cc4"/><text x="48.2" y="179.1" font-size="4.6" fill="#2a2a2a" class="l">CoOctβ1R</text><line x1="35.6" y1="184.8" x2="44.5" y2="184.8" stroke="#c43fe0" stroke-width="1.5"/><rect x="38.54" y="183.54" width="2.52" height="2.52" fill="#c43fe0"/><text x="48.2" y="186.5" font-size="4.6" fill="#2a2a2a" class="l">CoOctβ2R</text><line x1="35.6" y1="192.2" x2="44.5" y2="192.2" stroke="#86e040" stroke-width="1.5"/><path d="M39.8 190.38L41.62 193.6L37.98 193.6Z" fill="#86e040"/><text x="48.2" y="193.9" font-size="4.6" fill="#2a2a2a" class="l">CoOctβ3R</text></g><g><text x="177.3" y="118.8" font-size="8.7" font-weight="bold" class="b" fill="#1a1a1a">E</text><text transform="translate(165.7 161.7) rotate(-90) scale(1 1.12)" text-anchor="middle" font-size="5.5" font-weight="bold" class="m" fill="#1a1a1a">% of octopamine-stimulated</text><text transform="translate(172.6 161.7) rotate(-90) scale(1 1.12)" text-anchor="middle" font-size="5.5" font-weight="bold" class="m" fill="#1a1a1a">cAMP response</text><line x1="185.3" y1="199.2" x2="187.3" y2="199.2" stroke="#505050" stroke-width="1"/><text transform="translate(185.2 201.5) scale(1 1.18)" text-anchor="end" font-size="5.7" font-weight="bold" class="b" fill="#1a1a1a">0</text><line x1="185.3" y1="184.2" x2="187.3" y2="184.2" stroke="#505050" stroke-width="1"/><text transform="translate(185.2 186.5) scale(1 1.18)" text-anchor="end" font-size="5.7" font-weight="bold" class="b" fill="#1a1a1a">25</text><line x1="185.3" y1="169.2" x2="187.3" y2="169.2" stroke="#505050" stroke-width="1"/><text transform="translate(185.2 171.5) scale(1 1.18)" text-anchor="end" font-size="5.7" font-weight="bold" class="b" fill="#1a1a1a">50</text><line x1="185.3" y1="154.2" x2="187.3" y2="154.2" stroke="#505050" stroke-width="1"/><text transform="translate(185.2 156.5) scale(1 1.18)" text-anchor="end" font-size="5.7" font-weight="bold" class="b" fill="#1a1a1a">75</text><line x1="185.3" y1="139.2" x2="187.3" y2="139.2" stroke="#505050" stroke-width="1"/><text transform="translate(185.2 141.5) scale(1 1.18)" text-anchor="end" font-size="5.7" font-weight="bold" class="b" fill="#1a1a1a">100</text><line x1="185.3" y1="124.2" x2="187.3" y2="124.2" stroke="#505050" stroke-width="1"/><text transform="translate(185.2 126.5) scale(1 1.18)" text-anchor="end" font-size="5.7" font-weight="bold" class="b" fill="#1a1a1a">125</text><line x1="197.3" y1="199.2" x2="197.3" y2="201" stroke="#505050" stroke-width="1"/><text transform="translate(197.3 207.8) scale(1 1.12)" text-anchor="middle" font-size="5.8" font-weight="bold" class="b" fill="#1a1a1a">−9</text><line x1="216.05" y1="199.2" x2="216.05" y2="201" stroke="#505050" stroke-width="1"/><text transform="translate(216.05 207.8) scale(1 1.12)" text-anchor="middle" font-size="5.8" font-weight="bold" class="b" fill="#1a1a1a">−8</text><line x1="234.8" y1="199.2" x2="234.8" y2="201" stroke="#505050" stroke-width="1"/><text transform="translate(234.8 207.8) scale(1 1.12)" text-anchor="middle" font-size="5.8" font-weight="bold" class="b" fill="#1a1a1a">−7</text><line x1="253.55" y1="199.2" x2="253.55" y2="201" stroke="#505050" stroke-width="1"/><text transform="translate(253.55 207.8) scale(1 1.12)" text-anchor="middle" font-size="5.8" font-weight="bold" class="b" fill="#1a1a1a">−6</text><line x1="272.3" y1="199.2" x2="272.3" y2="201" stroke="#505050" stroke-width="1"/><text transform="translate(272.3 207.8) scale(1 1.12)" text-anchor="middle" font-size="5.8" font-weight="bold" class="b" fill="#1a1a1a">−5</text><line x1="291.05" y1="199.2" x2="291.05" y2="201" stroke="#505050" stroke-width="1"/><text transform="translate(291.05 207.8) scale(1 1.12)" text-anchor="middle" font-size="5.8" font-weight="bold" class="b" fill="#1a1a1a">−4</text><text transform="translate(245.78 215) scale(1 1.1)" text-anchor="middle" font-size="5.2" letter-spacing="0.15" font-weight="bold" class="b" fill="#1a1a1a">Log[Phentolamine](M)</text><path d="M187.3 123.7V199.4H300.3" fill="none" stroke="#505050" stroke-width="1.4"/><path d="M197.3 140.19L198.86 140.41L200.43 140.69L201.99 141.02L203.55 141.43L205.11 141.92L206.68 142.51L208.24 143.22L209.8 144.06L211.36 145.06L212.93 146.22L214.49 147.56L216.05 149.09L217.61 150.82L219.18 152.73L220.74 154.81L222.3 157.02L223.86 159.33L225.43 161.7L226.99 164.07L228.55 166.38L230.11 168.59L231.68 170.67L233.24 172.58L234.8 174.31L236.36 175.84L237.93 177.18L239.49 178.34L241.05 179.34L242.61 180.18L244.18 180.89L245.74 181.48L247.3 181.97L248.86 182.38L250.43 182.71L251.99 182.99L253.55 183.21L255.11 183.4L256.68 183.55L258.24 183.67L259.8 183.77L261.36 183.85L262.93 183.92L264.49 183.97L266.05 184.01L267.61 184.05L269.18 184.08L270.74 184.1L272.3 184.12L273.86 184.14L275.43 184.15L276.99 184.16L278.55 184.17L280.11 184.17L281.68 184.18L283.24 184.18L284.8 184.19L286.36 184.19L287.93 184.19L289.49 184.19L291.05 184.19" fill="none" stroke="#86e040" stroke-width="1.2"/><path d="M197.3 135.84V144.24M195.4 135.84H199.2M195.4 144.24H199.2" stroke="#86e040" stroke-width="0.8" fill="none"/><path d="M197.3 137.96L199.38 141.64L195.22 141.64Z" fill="#86e040"/><path d="M216.05 145.2V150M214.15 145.2H217.95M214.15 150H217.95" stroke="#86e040" stroke-width="0.8" fill="none"/><path d="M216.05 145.52L218.13 149.2L213.97 149.2Z" fill="#86e040"/><path d="M234.8 170.9L236.88 174.58L232.72 174.58Z" fill="#86e040"/><path d="M253.55 180.32L255.63 184L251.47 184Z" fill="#86e040"/><path d="M272.3 181.82L274.38 185.5L270.22 185.5Z" fill="#86e040"/><path d="M291.05 183.12V186.72M289.15 183.12H292.95M289.15 186.72H292.95" stroke="#86e040" stroke-width="0.8" fill="none"/><path d="M291.05 182.84L293.13 186.52L288.97 186.52Z" fill="#86e040"/><path d="M197.3 139.21L198.86 139.22L200.43 139.23L201.99 139.24L203.55 139.25L205.11 139.26L206.68 139.28L208.24 139.31L209.8 139.35L211.36 139.4L212.93 139.46L214.49 139.55L216.05 139.66L217.61 139.82L219.18 140.02L220.74 140.29L222.3 140.64L223.86 141.11L225.43 141.71L226.99 142.51L228.55 143.53L230.11 144.83L231.68 146.48L233.24 148.52L234.8 151L236.36 153.95L237.93 157.36L239.49 161.15L241.05 165.23L242.61 169.45L244.18 173.63L245.74 177.61L247.3 181.26L248.86 184.48L250.43 187.24L251.99 189.55L253.55 191.43L255.11 192.93L256.68 194.11L258.24 195.04L259.8 195.75L261.36 196.3L262.93 196.71L264.49 197.03L266.05 197.27L267.61 197.45L269.18 197.59L270.74 197.69L272.3 197.77L273.86 197.82L275.43 197.87L276.99 197.9L278.55 197.93L280.11 197.94L281.68 197.96L283.24 197.97L284.8 197.98L286.36 197.98L287.93 197.99L289.49 197.99L291.05 197.99" fill="none" stroke="#c43fe0" stroke-width="1.2"/><path d="M197.3 136.98V140.58M195.4 136.98H199.2M195.4 140.58H199.2" stroke="#c43fe0" stroke-width="0.8" fill="none"/><rect x="195.86" y="137.34" width="2.88" height="2.88" fill="#c43fe0"/><path d="M216.05 138.24V141.84M214.15 138.24H217.95M214.15 141.84H217.95" stroke="#c43fe0" stroke-width="0.8" fill="none"/><rect x="214.61" y="138.6" width="2.88" height="2.88" fill="#c43fe0"/><path d="M234.8 152.16V155.76M232.9 152.16H236.7M232.9 155.76H236.7" stroke="#c43fe0" stroke-width="0.8" fill="none"/><rect x="233.36" y="152.52" width="2.88" height="2.88" fill="#c43fe0"/><rect x="252.11" y="189.3" width="2.88" height="2.88" fill="#c43fe0"/><rect x="270.86" y="196.08" width="2.88" height="2.88" fill="#c43fe0"/><rect x="289.61" y="196.08" width="2.88" height="2.88" fill="#c43fe0"/><path d="M197.3 139.41L198.86 139.45L200.43 139.49L201.99 139.54L203.55 139.59L205.11 139.66L206.68 139.73L208.24 139.82L209.8 139.92L211.36 140.04L212.93 140.18L214.49 140.34L216.05 140.52L217.61 140.74L219.18 140.98L220.74 141.27L222.3 141.6L223.86 141.97L225.43 142.4L226.99 142.9L228.55 143.47L230.11 144.11L231.68 144.84L233.24 145.66L234.8 146.59L236.36 147.62L237.93 148.77L239.49 150.04L241.05 151.43L242.61 152.95L244.18 154.58L245.74 156.32L247.3 158.16L248.86 160.09L250.43 162.09L251.99 164.13L253.55 166.2L255.11 168.27L256.68 170.31L258.24 172.31L259.8 174.24L261.36 176.08L262.93 177.82L264.49 179.45L266.05 180.97L267.61 182.36L269.18 183.63L270.74 184.78L272.3 185.81L273.86 186.74L275.43 187.56L276.99 188.29L278.55 188.93L280.11 189.5L281.68 190L283.24 190.43L284.8 190.8L286.36 191.13L287.93 191.42L289.49 191.66L291.05 191.88" fill="none" stroke="#2e3cc4" stroke-width="1.2"/><path d="M197.3 130.92V140.52M195.4 130.92H199.2M195.4 140.52H199.2" stroke="#2e3cc4" stroke-width="0.8" fill="none"/><circle cx="197.3" cy="135.72" r="1.6" fill="#2e3cc4"/><path d="M216.05 137.64V144.84M214.15 137.64H217.95M214.15 144.84H217.95" stroke="#2e3cc4" stroke-width="0.8" fill="none"/><circle cx="216.05" cy="141.24" r="1.6" fill="#2e3cc4"/><path d="M234.8 141.96V145.56M232.9 141.96H236.7M232.9 145.56H236.7" stroke="#2e3cc4" stroke-width="0.8" fill="none"/><circle cx="234.8" cy="143.76" r="1.6" fill="#2e3cc4"/><path d="M253.55 158.58V166.98M251.65 158.58H255.45M251.65 166.98H255.45" stroke="#2e3cc4" stroke-width="0.8" fill="none"/><circle cx="253.55" cy="162.78" r="1.6" fill="#2e3cc4"/><circle cx="272.3" cy="183.78" r="1.6" fill="#2e3cc4"/><circle cx="291.05" cy="191.16" r="1.6" fill="#2e3cc4"/><line x1="189.6" y1="177.4" x2="198.5" y2="177.4" stroke="#2e3cc4" stroke-width="1.5"/><circle cx="193.8" cy="177.4" r="1.4" fill="#2e3cc4"/><text x="202.2" y="179.1" font-size="4.6" fill="#2a2a2a" class="l">CoOctβ1R</text><line x1="189.6" y1="184.8" x2="198.5" y2="184.8" stroke="#c43fe0" stroke-width="1.5"/><rect x="192.54" y="183.54" width="2.52" height="2.52" fill="#c43fe0"/><text x="202.2" y="186.5" font-size="4.6" fill="#2a2a2a" class="l">CoOctβ2R</text><line x1="189.6" y1="192.2" x2="198.5" y2="192.2" stroke="#86e040" stroke-width="1.5"/><path d="M193.8 190.38L195.62 193.6L191.98 193.6Z" fill="#86e040"/><text x="202.2" y="193.9" font-size="4.6" fill="#2a2a2a" class="l">CoOctβ3R</text></g><g><text x="331.5" y="118.8" font-size="8.7" font-weight="bold" class="b" fill="#1a1a1a">F</text><text transform="translate(319.9 161.7) rotate(-90) scale(1 1.12)" text-anchor="middle" font-size="5.5" font-weight="bold" class="m" fill="#1a1a1a">% of octopamine-stimulated</text><text transform="translate(326.8 161.7) rotate(-90) scale(1 1.12)" text-anchor="middle" font-size="5.5" font-weight="bold" class="m" fill="#1a1a1a">cAMP response</text><line x1="339.5" y1="199.2" x2="341.5" y2="199.2" stroke="#505050" stroke-width="1"/><text transform="translate(339.4 201.5) scale(1 1.18)" text-anchor="end" font-size="5.7" font-weight="bold" class="b" fill="#1a1a1a">0</text><line x1="339.5" y1="184.2" x2="341.5" y2="184.2" stroke="#505050" stroke-width="1"/><text transform="translate(339.4 186.5) scale(1 1.18)" text-anchor="end" font-size="5.7" font-weight="bold" class="b" fill="#1a1a1a">25</text><line x1="339.5" y1="169.2" x2="341.5" y2="169.2" stroke="#505050" stroke-width="1"/><text transform="translate(339.4 171.5) scale(1 1.18)" text-anchor="end" font-size="5.7" font-weight="bold" class="b" fill="#1a1a1a">50</text><line x1="339.5" y1="154.2" x2="341.5" y2="154.2" stroke="#505050" stroke-width="1"/><text transform="translate(339.4 156.5) scale(1 1.18)" text-anchor="end" font-size="5.7" font-weight="bold" class="b" fill="#1a1a1a">75</text><line x1="339.5" y1="139.2" x2="341.5" y2="139.2" stroke="#505050" stroke-width="1"/><text transform="translate(339.4 141.5) scale(1 1.18)" text-anchor="end" font-size="5.7" font-weight="bold" class="b" fill="#1a1a1a">100</text><line x1="339.5" y1="124.2" x2="341.5" y2="124.2" stroke="#505050" stroke-width="1"/><text transform="translate(339.4 126.5) scale(1 1.18)" text-anchor="end" font-size="5.7" font-weight="bold" class="b" fill="#1a1a1a">125</text><line x1="351.5" y1="199.2" x2="351.5" y2="201" stroke="#505050" stroke-width="1"/><text transform="translate(351.5 207.8) scale(1 1.12)" text-anchor="middle" font-size="5.8" font-weight="bold" class="b" fill="#1a1a1a">−9</text><line x1="370.48" y1="199.2" x2="370.48" y2="201" stroke="#505050" stroke-width="1"/><text transform="translate(370.48 207.8) scale(1 1.12)" text-anchor="middle" font-size="5.8" font-weight="bold" class="b" fill="#1a1a1a">−8</text><line x1="389.46" y1="199.2" x2="389.46" y2="201" stroke="#505050" stroke-width="1"/><text transform="translate(389.46 207.8) scale(1 1.12)" text-anchor="middle" font-size="5.8" font-weight="bold" class="b" fill="#1a1a1a">−7</text><line x1="408.44" y1="199.2" x2="408.44" y2="201" stroke="#505050" stroke-width="1"/><text transform="translate(408.44 207.8) scale(1 1.12)" text-anchor="middle" font-size="5.8" font-weight="bold" class="b" fill="#1a1a1a">−6</text><line x1="427.42" y1="199.2" x2="427.42" y2="201" stroke="#505050" stroke-width="1"/><text transform="translate(427.42 207.8) scale(1 1.12)" text-anchor="middle" font-size="5.8" font-weight="bold" class="b" fill="#1a1a1a">−5</text><line x1="446.4" y1="199.2" x2="446.4" y2="201" stroke="#505050" stroke-width="1"/><text transform="translate(446.4 207.8) scale(1 1.12)" text-anchor="middle" font-size="5.8" font-weight="bold" class="b" fill="#1a1a1a">−4</text><text transform="translate(399.55 215) scale(1 1.1)" text-anchor="middle" font-size="5.2" letter-spacing="0.19" font-weight="bold" class="b" fill="#1a1a1a">Log[Epinastine](M)</text><path d="M341.6 123.7V199.4H455.5" fill="none" stroke="#505050" stroke-width="1.4"/><path d="M351.5 145.85L353.08 146.14L354.66 146.56L356.25 147.16L357.83 148L359.41 149.15L360.99 150.69L362.57 152.68L364.15 155.12L365.74 157.97L367.32 161.07L368.9 164.21L370.48 167.18L372.06 169.8L373.64 171.97L375.23 173.69L376.81 174.98L378.39 175.94L379.97 176.63L381.55 177.11L383.13 177.45L384.72 177.69L386.3 177.85L387.88 177.96L389.46 178.04L391.04 178.09L392.62 178.12L394.2 178.15L395.79 178.16L397.37 178.18L398.95 178.18L400.53 178.19L402.11 178.19L403.69 178.19L405.28 178.2L406.86 178.2L408.44 178.2L410.02 178.2L411.6 178.2L413.19 178.2L414.77 178.2L416.35 178.2L417.93 178.2L419.51 178.2L421.09 178.2L422.68 178.2L424.26 178.2L425.84 178.2L427.42 178.2L429 178.2L430.58 178.2L432.17 178.2L433.75 178.2L435.33 178.2L436.91 178.2L438.49 178.2L440.07 178.2L441.65 178.2L443.24 178.2L444.82 178.2L446.4 178.2" fill="none" stroke="#86e040" stroke-width="1.2"/><path d="M351.5 140.4V150M349.6 140.4H353.4M349.6 150H353.4" stroke="#86e040" stroke-width="0.8" fill="none"/><path d="M351.5 143.12L353.58 146.8L349.42 146.8Z" fill="#86e040"/><path d="M370.48 165.6V169.2M368.58 165.6H372.38M368.58 169.2H372.38" stroke="#86e040" stroke-width="0.8" fill="none"/><path d="M370.48 165.32L372.56 169L368.4 169Z" fill="#86e040"/><path d="M389.46 176.42L391.54 180.1L387.38 180.1Z" fill="#86e040"/><path d="M408.44 175.5V181.5M406.54 175.5H410.34M406.54 181.5H410.34" stroke="#86e040" stroke-width="0.8" fill="none"/><path d="M408.44 176.42L410.52 180.1L406.36 180.1Z" fill="#86e040"/><path d="M427.42 176.12L429.5 179.8L425.34 179.8Z" fill="#86e040"/><path d="M446.4 175.38V180.18M444.5 175.38H448.3M444.5 180.18H448.3" stroke="#86e040" stroke-width="0.8" fill="none"/><path d="M446.4 175.7L448.48 179.38L444.32 179.38Z" fill="#86e040"/><path d="M351.5 141.55L353.08 142.13L354.66 142.84L356.25 143.72L357.83 144.77L359.41 146.05L360.99 147.57L362.57 149.36L364.15 151.45L365.74 153.83L367.32 156.5L368.9 159.44L370.48 162.59L372.06 165.9L373.64 169.28L375.23 172.64L376.81 175.89L378.39 178.97L379.97 181.8L381.55 184.36L383.13 186.62L384.72 188.59L386.3 190.27L387.88 191.69L389.46 192.87L391.04 193.85L392.62 194.66L394.2 195.31L395.79 195.85L397.37 196.28L398.95 196.62L400.53 196.9L402.11 197.12L403.69 197.3L405.28 197.44L406.86 197.56L408.44 197.65L410.02 197.72L411.6 197.78L413.19 197.82L414.77 197.86L416.35 197.89L417.93 197.91L419.51 197.93L421.09 197.94L422.68 197.96L424.26 197.96L425.84 197.97L427.42 197.98L429 197.98L430.58 197.99L432.17 197.99L433.75 197.99L435.33 197.99L436.91 197.99L438.49 198L440.07 198L441.65 198L443.24 198L444.82 198L446.4 198" fill="none" stroke="#c43fe0" stroke-width="1.2"/><path d="M351.5 138.12V142.92M349.6 138.12H353.4M349.6 142.92H353.4" stroke="#c43fe0" stroke-width="0.8" fill="none"/><rect x="350.06" y="139.08" width="2.88" height="2.88" fill="#c43fe0"/><path d="M370.48 159V162.6M368.58 159H372.38M368.58 162.6H372.38" stroke="#c43fe0" stroke-width="0.8" fill="none"/><rect x="369.04" y="159.36" width="2.88" height="2.88" fill="#c43fe0"/><rect x="388.02" y="190.2" width="2.88" height="2.88" fill="#c43fe0"/><rect x="407" y="196.08" width="2.88" height="2.88" fill="#c43fe0"/><rect x="425.98" y="196.08" width="2.88" height="2.88" fill="#c43fe0"/><rect x="444.96" y="196.08" width="2.88" height="2.88" fill="#c43fe0"/><path d="M351.5 142.53L353.08 142.64L354.66 142.77L356.25 142.94L357.83 143.17L359.41 143.46L360.99 143.83L362.57 144.31L364.15 144.93L365.74 145.71L367.32 146.7L368.9 147.92L370.48 149.43L372.06 151.25L373.64 153.41L375.23 155.92L376.81 158.74L378.39 161.83L379.97 165.1L381.55 168.44L383.13 171.73L384.72 174.86L386.3 177.74L387.88 180.31L389.46 182.54L391.04 184.43L392.62 186L394.2 187.28L395.79 188.31L397.37 189.13L398.95 189.77L400.53 190.28L402.11 190.68L403.69 190.98L405.28 191.22L406.86 191.4L408.44 191.54L410.02 191.65L411.6 191.73L413.19 191.79L414.77 191.84L416.35 191.88L417.93 191.91L419.51 191.93L421.09 191.95L422.68 191.96L424.26 191.97L425.84 191.98L427.42 191.98L429 191.99L430.58 191.99L432.17 191.99L433.75 191.99L435.33 192L436.91 192L438.49 192L440.07 192L441.65 192L443.24 192L444.82 192L446.4 192" fill="none" stroke="#2e3cc4" stroke-width="1.2"/><path d="M351.5 139.5V149.1M349.6 139.5H353.4M349.6 149.1H353.4" stroke="#2e3cc4" stroke-width="0.8" fill="none"/><circle cx="351.5" cy="144.3" r="1.6" fill="#2e3cc4"/><path d="M370.48 148.98V153.78M368.58 148.98H372.38M368.58 153.78H372.38" stroke="#2e3cc4" stroke-width="0.8" fill="none"/><circle cx="370.48" cy="151.38" r="1.6" fill="#2e3cc4"/><path d="M389.46 179.22V182.82M387.56 179.22H391.36M387.56 182.82H391.36" stroke="#2e3cc4" stroke-width="0.8" fill="none"/><circle cx="389.46" cy="181.02" r="1.6" fill="#2e3cc4"/><circle cx="408.44" cy="192" r="1.6" fill="#2e3cc4"/><circle cx="427.42" cy="192" r="1.6" fill="#2e3cc4"/><circle cx="446.4" cy="192" r="1.6" fill="#2e3cc4"/><line x1="343.8" y1="177.4" x2="352.7" y2="177.4" stroke="#2e3cc4" stroke-width="1.5"/><circle cx="348" cy="177.4" r="1.4" fill="#2e3cc4"/><text x="356.4" y="179.1" font-size="4.6" fill="#2a2a2a" class="l">CoOctβ1R</text><line x1="343.8" y1="184.8" x2="352.7" y2="184.8" stroke="#c43fe0" stroke-width="1.5"/><rect x="346.74" y="183.54" width="2.52" height="2.52" fill="#c43fe0"/><text x="356.4" y="186.5" font-size="4.6" fill="#2a2a2a" class="l">CoOctβ2R</text><line x1="343.8" y1="192.2" x2="352.7" y2="192.2" stroke="#86e040" stroke-width="1.5"/><path d="M348 190.38L349.82 193.6L346.18 193.6Z" fill="#86e040"/><text x="356.4" y="193.9" font-size="4.6" fill="#2a2a2a" class="l">CoOctβ3R</text></g><g><text x="23.3" y="223.9" font-size="8.7" font-weight="bold" class="b" fill="#1a1a1a">G</text><text transform="translate(11.7 266.9) rotate(-90) scale(1 1.12)" text-anchor="middle" font-size="5.5" font-weight="bold" class="b" fill="#1a1a1a">% of octopamine-stimulated</text><text transform="translate(18.6 266.9) rotate(-90) scale(1 1.12)" text-anchor="middle" font-size="5.5" font-weight="bold" class="b" fill="#1a1a1a">cAMP response</text><line x1="31.3" y1="304.4" x2="33.3" y2="304.4" stroke="#505050" stroke-width="1"/><text transform="translate(31.2 306.7) scale(1 1.18)" text-anchor="end" font-size="5.7" font-weight="bold" class="b" fill="#1a1a1a">0</text><line x1="31.3" y1="289.4" x2="33.3" y2="289.4" stroke="#505050" stroke-width="1"/><text transform="translate(31.2 291.7) scale(1 1.18)" text-anchor="end" font-size="5.7" font-weight="bold" class="b" fill="#1a1a1a">25</text><line x1="31.3" y1="274.4" x2="33.3" y2="274.4" stroke="#505050" stroke-width="1"/><text transform="translate(31.2 276.7) scale(1 1.18)" text-anchor="end" font-size="5.7" font-weight="bold" class="b" fill="#1a1a1a">50</text><line x1="31.3" y1="259.4" x2="33.3" y2="259.4" stroke="#505050" stroke-width="1"/><text transform="translate(31.2 261.7) scale(1 1.18)" text-anchor="end" font-size="5.7" font-weight="bold" class="b" fill="#1a1a1a">75</text><line x1="31.3" y1="244.4" x2="33.3" y2="244.4" stroke="#505050" stroke-width="1"/><text transform="translate(31.2 246.7) scale(1 1.18)" text-anchor="end" font-size="5.7" font-weight="bold" class="b" fill="#1a1a1a">100</text><line x1="31.3" y1="229.4" x2="33.3" y2="229.4" stroke="#505050" stroke-width="1"/><text transform="translate(31.2 231.7) scale(1 1.18)" text-anchor="end" font-size="5.7" font-weight="bold" class="b" fill="#1a1a1a">125</text><line x1="43.3" y1="304.4" x2="43.3" y2="306.2" stroke="#505050" stroke-width="1"/><text transform="translate(43.3 313) scale(1 1.12)" text-anchor="middle" font-size="5.8" font-weight="bold" class="b" fill="#1a1a1a">−9</text><line x1="62.05" y1="304.4" x2="62.05" y2="306.2" stroke="#505050" stroke-width="1"/><text transform="translate(62.05 313) scale(1 1.12)" text-anchor="middle" font-size="5.8" font-weight="bold" class="b" fill="#1a1a1a">−8</text><line x1="80.8" y1="304.4" x2="80.8" y2="306.2" stroke="#505050" stroke-width="1"/><text transform="translate(80.8 313) scale(1 1.12)" text-anchor="middle" font-size="5.8" font-weight="bold" class="b" fill="#1a1a1a">−7</text><line x1="99.55" y1="304.4" x2="99.55" y2="306.2" stroke="#505050" stroke-width="1"/><text transform="translate(99.55 313) scale(1 1.12)" text-anchor="middle" font-size="5.8" font-weight="bold" class="b" fill="#1a1a1a">−6</text><line x1="118.3" y1="304.4" x2="118.3" y2="306.2" stroke="#505050" stroke-width="1"/><text transform="translate(118.3 313) scale(1 1.12)" text-anchor="middle" font-size="5.8" font-weight="bold" class="b" fill="#1a1a1a">−5</text><line x1="137.05" y1="304.4" x2="137.05" y2="306.2" stroke="#505050" stroke-width="1"/><text transform="translate(137.05 313) scale(1 1.12)" text-anchor="middle" font-size="5.8" font-weight="bold" class="b" fill="#1a1a1a">−4</text><text transform="translate(92.48 320.2) scale(1 1.1)" text-anchor="middle" font-size="5.2" letter-spacing="0.25" font-weight="bold" class="b" fill="#1a1a1a">Log[Methiothepin](M)</text><path d="M33.8 228.9V304.6H146.3" fill="none" stroke="#505050" stroke-width="1.4"/><path d="M43.3 244.23L44.86 244.47L46.42 244.74L47.99 245.02L49.55 245.33L51.11 245.66L52.67 246.01L54.24 246.39L55.8 246.81L57.36 247.25L58.93 247.72L60.49 248.23L62.05 248.78L63.61 249.36L65.18 249.98L66.74 250.64L68.3 251.34L69.86 252.08L71.42 252.87L72.99 253.7L74.55 254.58L76.11 255.5L77.67 256.47L79.24 257.48L80.8 258.54L82.36 259.64L83.92 260.77L85.49 261.95L87.05 263.17L88.61 264.41L90.17 265.69L91.74 266.99L93.3 268.31L94.86 269.65L96.43 271L97.99 272.36L99.55 273.72L101.11 275.07L102.67 276.42L104.24 277.76L105.8 279.07L107.36 280.37L108.92 281.64L110.49 282.88L112.05 284.09L113.61 285.26L115.18 286.39L116.74 287.48L118.3 288.52L119.86 289.53L121.42 290.49L122.99 291.4L124.55 292.27L126.11 293.09L127.67 293.87L129.24 294.61L130.8 295.3L132.36 295.95L133.93 296.56L135.49 297.14L137.05 297.67" fill="none" stroke="#86e040" stroke-width="1.2"/><path d="M43.3 240.98V248.18M41.4 240.98H45.2M41.4 248.18H45.2" stroke="#86e040" stroke-width="0.8" fill="none"/><path d="M43.3 242.5L45.38 246.18L41.22 246.18Z" fill="#86e040"/><path d="M62.05 251.84V256.64M60.15 251.84H63.95M60.15 256.64H63.95" stroke="#86e040" stroke-width="0.8" fill="none"/><path d="M62.05 252.16L64.13 255.84L59.97 255.84Z" fill="#86e040"/><path d="M80.8 258.8V264.8M78.9 258.8H82.7M78.9 264.8H82.7" stroke="#86e040" stroke-width="0.8" fill="none"/><path d="M80.8 259.72L82.88 263.4L78.72 263.4Z" fill="#86e040"/><path d="M99.55 272.6V276.2M97.65 272.6H101.45M97.65 276.2H101.45" stroke="#86e040" stroke-width="0.8" fill="none"/><path d="M99.55 272.32L101.63 276L97.47 276Z" fill="#86e040"/><path d="M118.3 289.84L120.38 293.52L116.22 293.52Z" fill="#86e040"/><path d="M137.05 294.94L139.13 298.62L134.97 298.62Z" fill="#86e040"/><path d="M43.3 244.4L44.86 244.4L46.42 244.4L47.99 244.4L49.55 244.4L51.11 244.4L52.67 244.41L54.24 244.41L55.8 244.41L57.36 244.42L58.93 244.42L60.49 244.43L62.05 244.44L63.61 244.45L65.18 244.46L66.74 244.48L68.3 244.51L69.86 244.55L71.42 244.6L72.99 244.67L74.55 244.76L76.11 244.87L77.67 245.03L79.24 245.24L80.8 245.51L82.36 245.87L83.92 246.35L85.49 246.97L87.05 247.78L88.61 248.82L90.17 250.15L91.74 251.82L93.3 253.9L94.86 256.41L96.43 259.38L97.99 262.8L99.55 266.6L101.11 270.66L102.67 274.84L104.24 278.96L105.8 282.87L107.36 286.43L108.92 289.57L110.49 292.25L112.05 294.48L113.61 296.29L115.18 297.74L116.74 298.87L118.3 299.76L119.86 300.44L121.42 300.97L122.99 301.37L124.55 301.67L126.11 301.9L127.67 302.07L129.24 302.2L130.8 302.3L132.36 302.38L133.93 302.43L135.49 302.47L137.05 302.51" fill="none" stroke="#c43fe0" stroke-width="1.2"/><path d="M43.3 243.44V247.04M41.4 243.44H45.2M41.4 247.04H45.2" stroke="#c43fe0" stroke-width="0.8" fill="none"/><rect x="41.86" y="243.8" width="2.88" height="2.88" fill="#c43fe0"/><path d="M62.05 244.16V247.76M60.15 244.16H63.95M60.15 247.76H63.95" stroke="#c43fe0" stroke-width="0.8" fill="none"/><rect x="60.61" y="244.52" width="2.88" height="2.88" fill="#c43fe0"/><path d="M80.8 242.18V245.78M78.9 242.18H82.7M78.9 245.78H82.7" stroke="#c43fe0" stroke-width="0.8" fill="none"/><rect x="79.36" y="242.54" width="2.88" height="2.88" fill="#c43fe0"/><path d="M99.55 264.44V268.04M97.65 264.44H101.45M97.65 268.04H101.45" stroke="#c43fe0" stroke-width="0.8" fill="none"/><rect x="98.11" y="264.8" width="2.88" height="2.88" fill="#c43fe0"/><rect x="116.86" y="298.16" width="2.88" height="2.88" fill="#c43fe0"/><rect x="135.61" y="301.16" width="2.88" height="2.88" fill="#c43fe0"/><path d="M43.3 242.24L44.86 242.24L46.42 242.24L47.99 242.24L49.55 242.24L51.11 242.24L52.67 242.24L54.24 242.24L55.8 242.24L57.36 242.24L58.93 242.24L60.49 242.24L62.05 242.24L63.61 242.24L65.18 242.24L66.74 242.24L68.3 242.24L69.86 242.24L71.42 242.24L72.99 242.24L74.55 242.24L76.11 242.24L77.67 242.24L79.24 242.24L80.8 242.24L82.36 242.24L83.92 242.24L85.49 242.24L87.05 242.24L88.61 242.24L90.17 242.24L91.74 242.24L93.3 242.24L94.86 242.24L96.43 242.24L97.99 242.24L99.55 242.24L101.11 242.24L102.67 242.24L104.24 242.24L105.8 242.24L107.36 242.24L108.92 242.25L110.49 242.27L112.05 242.36L113.61 242.68L115.18 243.9L116.74 248.12L118.3 259.64L119.86 277.8L121.42 291.12L122.99 296.42L124.55 298L126.11 298.43L127.67 298.54L129.24 298.57L130.8 298.58L132.36 298.58L133.93 298.58L135.49 298.58L137.05 298.58" fill="none" stroke="#2e3cc4" stroke-width="1.2"/><circle cx="43.3" cy="246.92" r="1.6" fill="#2e3cc4"/><path d="M62.05 239.42V247.82M60.15 239.42H63.95M60.15 247.82H63.95" stroke="#2e3cc4" stroke-width="0.8" fill="none"/><circle cx="62.05" cy="243.62" r="1.6" fill="#2e3cc4"/><path d="M80.8 232.7V239.9M78.9 232.7H82.7M78.9 239.9H82.7" stroke="#2e3cc4" stroke-width="0.8" fill="none"/><circle cx="80.8" cy="236.3" r="1.6" fill="#2e3cc4"/><path d="M99.55 233.9V244.7M97.65 233.9H101.45M97.65 244.7H101.45" stroke="#2e3cc4" stroke-width="0.8" fill="none"/><circle cx="99.55" cy="239.3" r="1.6" fill="#2e3cc4"/><path d="M118.3 250.82V255.62M116.4 250.82H120.2M116.4 255.62H120.2" stroke="#2e3cc4" stroke-width="0.8" fill="none"/><circle cx="118.3" cy="253.22" r="1.6" fill="#2e3cc4"/><circle cx="137.05" cy="298.1" r="1.6" fill="#2e3cc4"/><line x1="35.6" y1="282.6" x2="44.5" y2="282.6" stroke="#2e3cc4" stroke-width="1.5"/><circle cx="39.8" cy="282.6" r="1.4" fill="#2e3cc4"/><text x="48.2" y="284.3" font-size="4.6" fill="#2a2a2a" class="l">CoOctβ1R</text><line x1="35.6" y1="290" x2="44.5" y2="290" stroke="#c43fe0" stroke-width="1.5"/><rect x="38.54" y="288.74" width="2.52" height="2.52" fill="#c43fe0"/><text x="48.2" y="291.7" font-size="4.6" fill="#2a2a2a" class="l">CoOctβ2R</text><line x1="35.6" y1="297.4" x2="44.5" y2="297.4" stroke="#86e040" stroke-width="1.5"/><path d="M39.8 295.58L41.62 298.8L37.98 298.8Z" fill="#86e040"/><text x="48.2" y="299.1" font-size="4.6" fill="#2a2a2a" class="l">CoOctβ3R</text></g><g><text x="177.3" y="223.9" font-size="8.7" font-weight="bold" class="b" fill="#1a1a1a">H</text><text transform="translate(165.7 266.9) rotate(-90) scale(1 1.12)" text-anchor="middle" font-size="5.5" font-weight="bold" class="m" fill="#1a1a1a">% of octopamine-stimulated</text><text transform="translate(172.6 266.9) rotate(-90) scale(1 1.12)" text-anchor="middle" font-size="5.5" font-weight="bold" class="m" fill="#1a1a1a">cAMP response</text><line x1="185.3" y1="304.4" x2="187.3" y2="304.4" stroke="#505050" stroke-width="1"/><text transform="translate(185.2 306.7) scale(1 1.18)" text-anchor="end" font-size="5.7" font-weight="bold" class="b" fill="#1a1a1a">0</text><line x1="185.3" y1="289.4" x2="187.3" y2="289.4" stroke="#505050" stroke-width="1"/><text transform="translate(185.2 291.7) scale(1 1.18)" text-anchor="end" font-size="5.7" font-weight="bold" class="b" fill="#1a1a1a">25</text><line x1="185.3" y1="274.4" x2="187.3" y2="274.4" stroke="#505050" stroke-width="1"/><text transform="translate(185.2 276.7) scale(1 1.18)" text-anchor="end" font-size="5.7" font-weight="bold" class="b" fill="#1a1a1a">50</text><line x1="185.3" y1="259.4" x2="187.3" y2="259.4" stroke="#505050" stroke-width="1"/><text transform="translate(185.2 261.7) scale(1 1.18)" text-anchor="end" font-size="5.7" font-weight="bold" class="b" fill="#1a1a1a">75</text><line x1="185.3" y1="244.4" x2="187.3" y2="244.4" stroke="#505050" stroke-width="1"/><text transform="translate(185.2 246.7) scale(1 1.18)" text-anchor="end" font-size="5.7" font-weight="bold" class="b" fill="#1a1a1a">100</text><line x1="185.3" y1="229.4" x2="187.3" y2="229.4" stroke="#505050" stroke-width="1"/><text transform="translate(185.2 231.7) scale(1 1.18)" text-anchor="end" font-size="5.7" font-weight="bold" class="b" fill="#1a1a1a">125</text><line x1="197.3" y1="304.4" x2="197.3" y2="306.2" stroke="#505050" stroke-width="1"/><text transform="translate(197.3 313) scale(1 1.12)" text-anchor="middle" font-size="5.8" font-weight="bold" class="b" fill="#1a1a1a">−9</text><line x1="216.05" y1="304.4" x2="216.05" y2="306.2" stroke="#505050" stroke-width="1"/><text transform="translate(216.05 313) scale(1 1.12)" text-anchor="middle" font-size="5.8" font-weight="bold" class="b" fill="#1a1a1a">−8</text><line x1="234.8" y1="304.4" x2="234.8" y2="306.2" stroke="#505050" stroke-width="1"/><text transform="translate(234.8 313) scale(1 1.12)" text-anchor="middle" font-size="5.8" font-weight="bold" class="b" fill="#1a1a1a">−7</text><line x1="253.55" y1="304.4" x2="253.55" y2="306.2" stroke="#505050" stroke-width="1"/><text transform="translate(253.55 313) scale(1 1.12)" text-anchor="middle" font-size="5.8" font-weight="bold" class="b" fill="#1a1a1a">−6</text><line x1="272.3" y1="304.4" x2="272.3" y2="306.2" stroke="#505050" stroke-width="1"/><text transform="translate(272.3 313) scale(1 1.12)" text-anchor="middle" font-size="5.8" font-weight="bold" class="b" fill="#1a1a1a">−5</text><line x1="291.05" y1="304.4" x2="291.05" y2="306.2" stroke="#505050" stroke-width="1"/><text transform="translate(291.05 313) scale(1 1.12)" text-anchor="middle" font-size="5.8" font-weight="bold" class="b" fill="#1a1a1a">−4</text><text transform="translate(244.78 320.2) scale(1 1.1)" text-anchor="middle" font-size="5.2" letter-spacing="0.2" font-weight="bold" class="b" fill="#1a1a1a">Log[Clozapine](M)</text><path d="M187.3 228.9V304.6H300.3" fill="none" stroke="#505050" stroke-width="1.4"/><path d="M197.3 249.77L198.86 249.86L200.43 249.97L201.99 250.1L203.55 250.24L205.11 250.41L206.68 250.61L208.24 250.83L209.8 251.09L211.36 251.39L212.93 251.74L214.49 252.13L216.05 252.58L217.61 253.1L219.18 253.69L220.74 254.35L222.3 255.1L223.86 255.94L225.43 256.88L226.99 257.93L228.55 259.08L230.11 260.33L231.68 261.7L233.24 263.17L234.8 264.74L236.36 266.39L237.93 268.12L239.49 269.91L241.05 271.73L242.61 273.57L244.18 275.4L245.74 277.21L247.3 278.98L248.86 280.68L250.43 282.3L251.99 283.83L253.55 285.26L255.11 286.58L256.68 287.8L258.24 288.9L259.8 289.91L261.36 290.81L262.93 291.61L264.49 292.32L266.05 292.96L267.61 293.51L269.18 294L270.74 294.43L272.3 294.81L273.86 295.13L275.43 295.42L276.99 295.66L278.55 295.87L280.11 296.06L281.68 296.22L283.24 296.35L284.8 296.47L286.36 296.58L287.93 296.66L289.49 296.74L291.05 296.8" fill="none" stroke="#86e040" stroke-width="1.2"/><path d="M197.3 247.58V251.18M195.4 247.58H199.2M195.4 251.18H199.2" stroke="#86e040" stroke-width="0.8" fill="none"/><path d="M197.3 247.3L199.38 250.98L195.22 250.98Z" fill="#86e040"/><path d="M216.05 252.08V256.88M214.15 252.08H217.95M214.15 256.88H217.95" stroke="#86e040" stroke-width="0.8" fill="none"/><path d="M216.05 252.4L218.13 256.08L213.97 256.08Z" fill="#86e040"/><path d="M234.8 263.12V269.12M232.9 263.12H236.7M232.9 269.12H236.7" stroke="#86e040" stroke-width="0.8" fill="none"/><path d="M234.8 264.04L236.88 267.72L232.72 267.72Z" fill="#86e040"/><path d="M253.55 283L255.63 286.68L251.47 286.68Z" fill="#86e040"/><path d="M272.3 292.36L274.38 296.04L270.22 296.04Z" fill="#86e040"/><path d="M291.05 293.62L293.13 297.3L288.97 297.3Z" fill="#86e040"/><path d="M197.3 244.11L198.86 244.11L200.43 244.11L201.99 244.11L203.55 244.12L205.11 244.12L206.68 244.13L208.24 244.14L209.8 244.15L211.36 244.17L212.93 244.2L214.49 244.23L216.05 244.27L217.61 244.33L219.18 244.4L220.74 244.5L222.3 244.63L223.86 244.81L225.43 245.04L226.99 245.35L228.55 245.76L230.11 246.29L231.68 246.99L233.24 247.89L234.8 249.04L236.36 250.51L237.93 252.34L239.49 254.6L241.05 257.31L242.61 260.48L244.18 264.08L245.74 268.02L247.3 272.17L248.86 276.37L250.43 280.45L251.99 284.25L253.55 287.67L255.11 290.64L256.68 293.15L258.24 295.21L259.8 296.88L261.36 298.2L262.93 299.24L264.49 300.04L266.05 300.66L267.61 301.13L269.18 301.49L270.74 301.77L272.3 301.97L273.86 302.13L275.43 302.25L276.99 302.33L278.55 302.4L280.11 302.45L281.68 302.49L283.24 302.52L284.8 302.54L286.36 302.55L287.93 302.56L289.49 302.57L291.05 302.58" fill="none" stroke="#c43fe0" stroke-width="1.2"/><path d="M197.3 242V245.6M195.4 242H199.2M195.4 245.6H199.2" stroke="#c43fe0" stroke-width="0.8" fill="none"/><rect x="195.86" y="242.36" width="2.88" height="2.88" fill="#c43fe0"/><rect x="214.61" y="242.96" width="2.88" height="2.88" fill="#c43fe0"/><path d="M234.8 245.24V254.84M232.9 245.24H236.7M232.9 254.84H236.7" stroke="#c43fe0" stroke-width="0.8" fill="none"/><rect x="233.36" y="248.6" width="2.88" height="2.88" fill="#c43fe0"/><rect x="252.11" y="285.38" width="2.88" height="2.88" fill="#c43fe0"/><rect x="270.86" y="300.56" width="2.88" height="2.88" fill="#c43fe0"/><rect x="289.61" y="301.16" width="2.88" height="2.88" fill="#c43fe0"/><path d="M197.3 247.4L198.86 247.4L200.43 247.4L201.99 247.41L203.55 247.41L205.11 247.41L206.68 247.41L208.24 247.41L209.8 247.41L211.36 247.42L212.93 247.42L214.49 247.42L216.05 247.43L217.61 247.43L219.18 247.44L220.74 247.45L222.3 247.46L223.86 247.47L225.43 247.48L226.99 247.5L228.55 247.52L230.11 247.54L231.68 247.57L233.24 247.61L234.8 247.65L236.36 247.7L237.93 247.76L239.49 247.83L241.05 247.91L242.61 248.01L244.18 248.14L245.74 248.28L247.3 248.46L248.86 248.66L250.43 248.91L251.99 249.2L253.55 249.55L255.11 249.96L256.68 250.45L258.24 251.03L259.8 251.71L261.36 252.5L262.93 253.43L264.49 254.51L266.05 255.75L267.61 257.17L269.18 258.79L270.74 260.61L272.3 262.64L273.86 264.88L275.43 267.32L276.99 269.94L278.55 272.72L280.11 275.62L281.68 278.6L283.24 281.6L284.8 284.59L286.36 287.51L287.93 290.31L289.49 292.97L291.05 295.45" fill="none" stroke="#2e3cc4" stroke-width="1.2"/><path d="M197.3 239V247.4M195.4 239H199.2M195.4 247.4H199.2" stroke="#2e3cc4" stroke-width="0.8" fill="none"/><circle cx="197.3" cy="243.2" r="1.6" fill="#2e3cc4"/><circle cx="216.05" cy="253.4" r="1.6" fill="#2e3cc4"/><path d="M234.8 247.4V257M232.9 247.4H236.7M232.9 257H236.7" stroke="#2e3cc4" stroke-width="0.8" fill="none"/><circle cx="234.8" cy="252.2" r="1.6" fill="#2e3cc4"/><path d="M253.55 247.82V253.82M251.65 247.82H255.45M251.65 253.82H255.45" stroke="#2e3cc4" stroke-width="0.8" fill="none"/><circle cx="253.55" cy="250.82" r="1.6" fill="#2e3cc4"/><path d="M272.3 260.9V264.5M270.4 260.9H274.2M270.4 264.5H274.2" stroke="#2e3cc4" stroke-width="0.8" fill="none"/><circle cx="272.3" cy="262.7" r="1.6" fill="#2e3cc4"/><circle cx="291.05" cy="296.12" r="1.6" fill="#2e3cc4"/><line x1="189.6" y1="282.6" x2="198.5" y2="282.6" stroke="#2e3cc4" stroke-width="1.5"/><circle cx="193.8" cy="282.6" r="1.4" fill="#2e3cc4"/><text x="202.2" y="284.3" font-size="4.6" fill="#2a2a2a" class="l">CoOctβ1R</text><line x1="189.6" y1="290" x2="198.5" y2="290" stroke="#c43fe0" stroke-width="1.5"/><rect x="192.54" y="288.74" width="2.52" height="2.52" fill="#c43fe0"/><text x="202.2" y="291.7" font-size="4.6" fill="#2a2a2a" class="l">CoOctβ2R</text><line x1="189.6" y1="297.4" x2="198.5" y2="297.4" stroke="#86e040" stroke-width="1.5"/><path d="M193.8 295.58L195.62 298.8L191.98 298.8Z" fill="#86e040"/><text x="202.2" y="299.1" font-size="4.6" fill="#2a2a2a" class="l">CoOctβ3R</text></g><g><text x="331.5" y="223.9" font-size="8.7" font-weight="bold" class="b" fill="#1a1a1a">I</text><text transform="translate(319.9 266.9) rotate(-90) scale(1 1.12)" text-anchor="middle" font-size="5.5" font-weight="bold" class="m" fill="#1a1a1a">% of octopamine-stimulated</text><text transform="translate(326.8 266.9) rotate(-90) scale(1 1.12)" text-anchor="middle" font-size="5.5" font-weight="bold" class="m" fill="#1a1a1a">cAMP response</text><line x1="339.5" y1="304.4" x2="341.5" y2="304.4" stroke="#505050" stroke-width="1"/><text transform="translate(339.4 306.7) scale(1 1.18)" text-anchor="end" font-size="5.7" font-weight="bold" class="b" fill="#1a1a1a">0</text><line x1="339.5" y1="289.4" x2="341.5" y2="289.4" stroke="#505050" stroke-width="1"/><text transform="translate(339.4 291.7) scale(1 1.18)" text-anchor="end" font-size="5.7" font-weight="bold" class="b" fill="#1a1a1a">25</text><line x1="339.5" y1="274.4" x2="341.5" y2="274.4" stroke="#505050" stroke-width="1"/><text transform="translate(339.4 276.7) scale(1 1.18)" text-anchor="end" font-size="5.7" font-weight="bold" class="b" fill="#1a1a1a">50</text><line x1="339.5" y1="259.4" x2="341.5" y2="259.4" stroke="#505050" stroke-width="1"/><text transform="translate(339.4 261.7) scale(1 1.18)" text-anchor="end" font-size="5.7" font-weight="bold" class="b" fill="#1a1a1a">75</text><line x1="339.5" y1="244.4" x2="341.5" y2="244.4" stroke="#505050" stroke-width="1"/><text transform="translate(339.4 246.7) scale(1 1.18)" text-anchor="end" font-size="5.7" font-weight="bold" class="b" fill="#1a1a1a">100</text><line x1="339.5" y1="229.4" x2="341.5" y2="229.4" stroke="#505050" stroke-width="1"/><text transform="translate(339.4 231.7) scale(1 1.18)" text-anchor="end" font-size="5.7" font-weight="bold" class="b" fill="#1a1a1a">125</text><line x1="351.5" y1="304.4" x2="351.5" y2="306.2" stroke="#505050" stroke-width="1"/><text transform="translate(351.5 313) scale(1 1.12)" text-anchor="middle" font-size="5.8" font-weight="bold" class="b" fill="#1a1a1a">−9</text><line x1="370.25" y1="304.4" x2="370.25" y2="306.2" stroke="#505050" stroke-width="1"/><text transform="translate(370.25 313) scale(1 1.12)" text-anchor="middle" font-size="5.8" font-weight="bold" class="b" fill="#1a1a1a">−8</text><line x1="389" y1="304.4" x2="389" y2="306.2" stroke="#505050" stroke-width="1"/><text transform="translate(389 313) scale(1 1.12)" text-anchor="middle" font-size="5.8" font-weight="bold" class="b" fill="#1a1a1a">−7</text><line x1="407.75" y1="304.4" x2="407.75" y2="306.2" stroke="#505050" stroke-width="1"/><text transform="translate(407.75 313) scale(1 1.12)" text-anchor="middle" font-size="5.8" font-weight="bold" class="b" fill="#1a1a1a">−6</text><line x1="426.5" y1="304.4" x2="426.5" y2="306.2" stroke="#505050" stroke-width="1"/><text transform="translate(426.5 313) scale(1 1.12)" text-anchor="middle" font-size="5.8" font-weight="bold" class="b" fill="#1a1a1a">−5</text><line x1="445.25" y1="304.4" x2="445.25" y2="306.2" stroke="#505050" stroke-width="1"/><text transform="translate(445.25 313) scale(1 1.12)" text-anchor="middle" font-size="5.8" font-weight="bold" class="b" fill="#1a1a1a">−4</text><text transform="translate(398.98 320.2) scale(1 1.1)" text-anchor="middle" font-size="5.2" letter-spacing="0" font-weight="bold" class="b" fill="#1a1a1a">Log[Asenapine](M)</text><path d="M341.6 228.9V304.6H454.5" fill="none" stroke="#505050" stroke-width="1.4"/><path d="M351.5 252.02L353.06 252.8L354.62 253.69L356.19 254.7L357.75 255.84L359.31 257.12L360.88 258.55L362.44 260.11L364 261.82L365.56 263.65L367.12 265.59L368.69 267.63L370.25 269.73L371.81 271.87L373.38 274.02L374.94 276.14L376.5 278.21L378.06 280.19L379.62 282.07L381.19 283.82L382.75 285.44L384.31 286.92L385.88 288.26L387.44 289.46L389 290.52L390.56 291.46L392.12 292.28L393.69 292.99L395.25 293.61L396.81 294.15L398.38 294.61L399.94 295L401.5 295.34L403.06 295.62L404.62 295.87L406.19 296.07L407.75 296.25L409.31 296.4L410.88 296.52L412.44 296.63L414 296.72L415.56 296.79L417.12 296.86L418.69 296.91L420.25 296.96L421.81 297L423.38 297.03L424.94 297.06L426.5 297.08L428.06 297.1L429.62 297.11L431.19 297.13L432.75 297.14L434.31 297.15L435.88 297.16L437.44 297.16L439 297.17L440.56 297.17L442.12 297.18L443.69 297.18L445.25 297.18" fill="none" stroke="#86e040" stroke-width="1.2"/><path d="M351.5 246.62V250.22M349.6 246.62H353.4M349.6 250.22H353.4" stroke="#86e040" stroke-width="0.8" fill="none"/><path d="M351.5 246.34L353.58 250.02L349.42 250.02Z" fill="#86e040"/><path d="M370.25 265.52V270.32M368.35 265.52H372.15M368.35 270.32H372.15" stroke="#86e040" stroke-width="0.8" fill="none"/><path d="M370.25 265.84L372.33 269.52L368.17 269.52Z" fill="#86e040"/><path d="M389 285.2V291.2M387.1 285.2H390.9M387.1 291.2H390.9" stroke="#86e040" stroke-width="0.8" fill="none"/><path d="M389 286.12L391.08 289.8L386.92 289.8Z" fill="#86e040"/><path d="M407.75 294.46L409.83 298.14L405.67 298.14Z" fill="#86e040"/><path d="M426.5 294.94L428.58 298.62L424.42 298.62Z" fill="#86e040"/><path d="M445.25 294.94L447.33 298.62L443.17 298.62Z" fill="#86e040"/><path d="M351.5 250.84L353.06 251.24L354.62 251.75L356.19 252.37L357.75 253.13L359.31 254.05L360.88 255.17L362.44 256.51L364 258.08L365.56 259.92L367.12 262.03L368.69 264.41L370.25 267.03L371.81 269.86L373.38 272.84L374.94 275.9L376.5 278.96L378.06 281.94L379.62 284.77L381.19 287.39L382.75 289.77L384.31 291.88L385.88 293.72L387.44 295.29L389 296.63L390.56 297.75L392.12 298.67L393.69 299.43L395.25 300.05L396.81 300.56L398.38 300.96L399.94 301.29L401.5 301.56L403.06 301.77L404.62 301.94L406.19 302.07L407.75 302.18L409.31 302.27L410.88 302.33L412.44 302.39L414 302.43L415.56 302.47L417.12 302.49L418.69 302.52L420.25 302.53L421.81 302.55L423.38 302.56L424.94 302.57L426.5 302.57L428.06 302.58L429.62 302.58L431.19 302.59L432.75 302.59L434.31 302.59L435.88 302.59L437.44 302.59L439 302.6L440.56 302.6L442.12 302.6L443.69 302.6L445.25 302.6" fill="none" stroke="#c43fe0" stroke-width="1.2"/><path d="M351.5 247.58V251.18M349.6 247.58H353.4M349.6 251.18H353.4" stroke="#c43fe0" stroke-width="0.8" fill="none"/><rect x="350.06" y="247.94" width="2.88" height="2.88" fill="#c43fe0"/><path d="M370.25 258.62V263.42M368.35 258.62H372.15M368.35 263.42H372.15" stroke="#c43fe0" stroke-width="0.8" fill="none"/><rect x="368.81" y="259.58" width="2.88" height="2.88" fill="#c43fe0"/><rect x="387.56" y="294.26" width="2.88" height="2.88" fill="#c43fe0"/><rect x="406.31" y="300.56" width="2.88" height="2.88" fill="#c43fe0"/><rect x="425.06" y="301.16" width="2.88" height="2.88" fill="#c43fe0"/><rect x="443.81" y="301.16" width="2.88" height="2.88" fill="#c43fe0"/><path d="M351.5 242.21L353.06 242.26L354.62 242.33L356.19 242.4L357.75 242.49L359.31 242.61L360.88 242.75L362.44 242.92L364 243.14L365.56 243.4L367.12 243.72L368.69 244.1L370.25 244.58L371.81 245.15L373.38 245.84L374.94 246.66L376.5 247.65L378.06 248.82L379.62 250.19L381.19 251.78L382.75 253.6L384.31 255.67L385.88 257.97L387.44 260.49L389 263.21L390.56 266.06L392.12 269.01L393.69 271.98L395.25 274.92L396.81 277.75L398.38 280.43L399.94 282.91L401.5 285.16L403.06 287.18L404.62 288.96L406.19 290.5L407.75 291.83L409.31 292.96L410.88 293.91L412.44 294.71L414 295.38L415.56 295.93L417.12 296.38L418.69 296.75L420.25 297.06L421.81 297.31L423.38 297.51L424.94 297.68L426.5 297.82L428.06 297.93L429.62 298.02L431.19 298.09L432.75 298.15L434.31 298.2L435.88 298.23L437.44 298.27L439 298.29L440.56 298.31L442.12 298.33L443.69 298.34L445.25 298.35" fill="none" stroke="#2e3cc4" stroke-width="1.2"/><path d="M351.5 239.42V245.42M349.6 239.42H353.4M349.6 245.42H353.4" stroke="#2e3cc4" stroke-width="0.8" fill="none"/><circle cx="351.5" cy="242.42" r="1.6" fill="#2e3cc4"/><path d="M370.25 242.6V247.4M368.35 242.6H372.15M368.35 247.4H372.15" stroke="#2e3cc4" stroke-width="0.8" fill="none"/><circle cx="370.25" cy="245" r="1.6" fill="#2e3cc4"/><circle cx="389" cy="262.7" r="1.6" fill="#2e3cc4"/><circle cx="407.75" cy="290.6" r="1.6" fill="#2e3cc4"/><circle cx="426.5" cy="297.68" r="1.6" fill="#2e3cc4"/><circle cx="445.25" cy="297.68" r="1.6" fill="#2e3cc4"/><line x1="343.8" y1="282.6" x2="352.7" y2="282.6" stroke="#2e3cc4" stroke-width="1.5"/><circle cx="348" cy="282.6" r="1.4" fill="#2e3cc4"/><text x="356.4" y="284.3" font-size="4.6" fill="#2a2a2a" class="l">CoOctβ1R</text><line x1="343.8" y1="290" x2="352.7" y2="290" stroke="#c43fe0" stroke-width="1.5"/><rect x="346.74" y="288.74" width="2.52" height="2.52" fill="#c43fe0"/><text x="356.4" y="291.7" font-size="4.6" fill="#2a2a2a" class="l">CoOctβ2R</text><line x1="343.8" y1="297.4" x2="352.7" y2="297.4" stroke="#86e040" stroke-width="1.5"/><path d="M348 295.58L349.82 298.8L346.18 298.8Z" fill="#86e040"/><text x="356.4" y="299.1" font-size="4.6" fill="#2a2a2a" class="l">CoOctβ3R</text></g><g><text x="23.3" y="328" font-size="8.7" font-weight="bold" class="b" fill="#1a1a1a">J</text><text transform="translate(11.7 371.7) rotate(-90) scale(1 1.12)" text-anchor="middle" font-size="5.5" font-weight="bold" class="b" fill="#1a1a1a">% of octopamine-stimulated</text><text transform="translate(18.6 371.7) rotate(-90) scale(1 1.12)" text-anchor="middle" font-size="5.5" font-weight="bold" class="b" fill="#1a1a1a">cAMP response</text><line x1="31.3" y1="409.2" x2="33.3" y2="409.2" stroke="#505050" stroke-width="1"/><text transform="translate(31.2 411.5) scale(1 1.18)" text-anchor="end" font-size="5.7" font-weight="bold" class="b" fill="#1a1a1a">0</text><line x1="31.3" y1="394.2" x2="33.3" y2="394.2" stroke="#505050" stroke-width="1"/><text transform="translate(31.2 396.5) scale(1 1.18)" text-anchor="end" font-size="5.7" font-weight="bold" class="b" fill="#1a1a1a">25</text><line x1="31.3" y1="379.2" x2="33.3" y2="379.2" stroke="#505050" stroke-width="1"/><text transform="translate(31.2 381.5) scale(1 1.18)" text-anchor="end" font-size="5.7" font-weight="bold" class="b" fill="#1a1a1a">50</text><line x1="31.3" y1="364.2" x2="33.3" y2="364.2" stroke="#505050" stroke-width="1"/><text transform="translate(31.2 366.5) scale(1 1.18)" text-anchor="end" font-size="5.7" font-weight="bold" class="b" fill="#1a1a1a">75</text><line x1="31.3" y1="349.2" x2="33.3" y2="349.2" stroke="#505050" stroke-width="1"/><text transform="translate(31.2 351.5) scale(1 1.18)" text-anchor="end" font-size="5.7" font-weight="bold" class="b" fill="#1a1a1a">100</text><line x1="31.3" y1="334.2" x2="33.3" y2="334.2" stroke="#505050" stroke-width="1"/><text transform="translate(31.2 336.5) scale(1 1.18)" text-anchor="end" font-size="5.7" font-weight="bold" class="b" fill="#1a1a1a">125</text><line x1="43.3" y1="409.2" x2="43.3" y2="411" stroke="#505050" stroke-width="1"/><text transform="translate(43.3 417.8) scale(1 1.12)" text-anchor="middle" font-size="5.8" font-weight="bold" class="b" fill="#1a1a1a">−9</text><line x1="62.05" y1="409.2" x2="62.05" y2="411" stroke="#505050" stroke-width="1"/><text transform="translate(62.05 417.8) scale(1 1.12)" text-anchor="middle" font-size="5.8" font-weight="bold" class="b" fill="#1a1a1a">−8</text><line x1="80.8" y1="409.2" x2="80.8" y2="411" stroke="#505050" stroke-width="1"/><text transform="translate(80.8 417.8) scale(1 1.12)" text-anchor="middle" font-size="5.8" font-weight="bold" class="b" fill="#1a1a1a">−7</text><line x1="99.55" y1="409.2" x2="99.55" y2="411" stroke="#505050" stroke-width="1"/><text transform="translate(99.55 417.8) scale(1 1.12)" text-anchor="middle" font-size="5.8" font-weight="bold" class="b" fill="#1a1a1a">−6</text><line x1="118.3" y1="409.2" x2="118.3" y2="411" stroke="#505050" stroke-width="1"/><text transform="translate(118.3 417.8) scale(1 1.12)" text-anchor="middle" font-size="5.8" font-weight="bold" class="b" fill="#1a1a1a">−5</text><line x1="137.05" y1="409.2" x2="137.05" y2="411" stroke="#505050" stroke-width="1"/><text transform="translate(137.05 417.8) scale(1 1.12)" text-anchor="middle" font-size="5.8" font-weight="bold" class="b" fill="#1a1a1a">−4</text><text transform="translate(90.78 425) scale(1 1.1)" text-anchor="middle" font-size="5.2" letter-spacing="0" font-weight="bold" class="b" fill="#1a1a1a">Log[Amitriptyline](M)</text><path d="M33.8 333.7V409.4H146.3" fill="none" stroke="#505050" stroke-width="1.4"/><path d="M43.3 354.3L44.86 354.3L46.42 354.31L47.99 354.31L49.55 354.31L51.11 354.31L52.67 354.32L54.24 354.32L55.8 354.33L57.36 354.34L58.93 354.35L60.49 354.37L62.05 354.39L63.61 354.42L65.18 354.46L66.74 354.5L68.3 354.57L69.86 354.65L71.42 354.75L72.99 354.89L74.55 355.07L76.11 355.3L77.67 355.6L79.24 355.99L80.8 356.49L82.36 357.12L83.92 357.92L85.49 358.94L87.05 360.19L88.61 361.73L90.17 363.59L91.74 365.78L93.3 368.3L94.86 371.13L96.43 374.21L97.99 377.44L99.55 380.72L101.11 383.93L102.67 386.96L104.24 389.73L105.8 392.19L107.36 394.31L108.92 396.1L110.49 397.58L112.05 398.79L113.61 399.75L115.18 400.52L116.74 401.12L118.3 401.6L119.86 401.97L121.42 402.25L122.99 402.47L124.55 402.64L126.11 402.77L127.67 402.87L129.24 402.95L130.8 403.01L132.36 403.05L133.93 403.09L135.49 403.11L137.05 403.13" fill="none" stroke="#86e040" stroke-width="1.2"/><path d="M43.3 351.24V357.24M41.4 351.24H45.2M41.4 357.24H45.2" stroke="#86e040" stroke-width="0.8" fill="none"/><path d="M43.3 352.16L45.38 355.84L41.22 355.84Z" fill="#86e040"/><path d="M62.05 355.2V362.4M60.15 355.2H63.95M60.15 362.4H63.95" stroke="#86e040" stroke-width="0.8" fill="none"/><path d="M62.05 356.72L64.13 360.4L59.97 360.4Z" fill="#86e040"/><path d="M80.8 355.2V361.2M78.9 355.2H82.7M78.9 361.2H82.7" stroke="#86e040" stroke-width="0.8" fill="none"/><path d="M80.8 356.12L82.88 359.8L78.72 359.8Z" fill="#86e040"/><path d="M99.55 372.6V385.8M97.65 372.6H101.45M97.65 385.8H101.45" stroke="#86e040" stroke-width="0.8" fill="none"/><path d="M99.55 377.12L101.63 380.8L97.47 380.8Z" fill="#86e040"/><path d="M118.3 399.5L120.38 403.18L116.22 403.18Z" fill="#86e040"/><path d="M137.05 400.76L139.13 404.44L134.97 404.44Z" fill="#86e040"/><path d="M43.3 351.01L44.86 351.01L46.42 351.01L47.99 351.01L49.55 351.02L51.11 351.02L52.67 351.02L54.24 351.03L55.8 351.04L57.36 351.05L58.93 351.06L60.49 351.08L62.05 351.1L63.61 351.12L65.18 351.16L66.74 351.2L68.3 351.25L69.86 351.31L71.42 351.39L72.99 351.49L74.55 351.62L76.11 351.78L77.67 351.97L79.24 352.22L80.8 352.53L82.36 352.91L83.92 353.38L85.49 353.97L87.05 354.69L88.61 355.57L90.17 356.63L91.74 357.91L93.3 359.44L94.86 361.23L96.43 363.31L97.99 365.68L99.55 368.32L101.11 371.21L102.67 374.31L104.24 377.53L105.8 380.81L107.36 384.05L108.92 387.18L110.49 390.12L112.05 392.82L113.61 395.24L115.18 397.38L116.74 399.22L118.3 400.8L119.86 402.13L121.42 403.24L122.99 404.15L124.55 404.9L126.11 405.51L127.67 406L129.24 406.4L130.8 406.72L132.36 406.98L133.93 407.19L135.49 407.35L137.05 407.48" fill="none" stroke="#c43fe0" stroke-width="1.2"/><path d="M43.3 349.2V352.8M41.4 349.2H45.2M41.4 352.8H45.2" stroke="#c43fe0" stroke-width="0.8" fill="none"/><rect x="41.86" y="349.56" width="2.88" height="2.88" fill="#c43fe0"/><path d="M62.05 346.2V351M60.15 346.2H63.95M60.15 351H63.95" stroke="#c43fe0" stroke-width="0.8" fill="none"/><rect x="60.61" y="347.16" width="2.88" height="2.88" fill="#c43fe0"/><path d="M80.8 350.52V355.32M78.9 350.52H82.7M78.9 355.32H82.7" stroke="#c43fe0" stroke-width="0.8" fill="none"/><rect x="79.36" y="351.48" width="2.88" height="2.88" fill="#c43fe0"/><path d="M99.55 365.1V368.7M97.65 365.1H101.45M97.65 368.7H101.45" stroke="#c43fe0" stroke-width="0.8" fill="none"/><rect x="98.11" y="365.46" width="2.88" height="2.88" fill="#c43fe0"/><rect x="116.86" y="400.14" width="2.88" height="2.88" fill="#c43fe0"/><rect x="135.61" y="405.96" width="2.88" height="2.88" fill="#c43fe0"/><path d="M43.3 344.4L44.86 344.4L46.42 344.4L47.99 344.4L49.55 344.4L51.11 344.4L52.67 344.4L54.24 344.4L55.8 344.4L57.36 344.4L58.93 344.4L60.49 344.4L62.05 344.4L63.61 344.4L65.18 344.4L66.74 344.4L68.3 344.4L69.86 344.4L71.42 344.4L72.99 344.41L74.55 344.41L76.11 344.41L77.67 344.41L79.24 344.42L80.8 344.43L82.36 344.44L83.92 344.45L85.49 344.47L87.05 344.5L88.61 344.54L90.17 344.59L91.74 344.66L93.3 344.75L94.86 344.88L96.43 345.06L97.99 345.3L99.55 345.64L101.11 346.09L102.67 346.7L104.24 347.51L105.8 348.6L107.36 350.03L108.92 351.88L110.49 354.22L112.05 357.13L113.61 360.61L115.18 364.64L116.74 369.1L118.3 373.83L119.86 378.58L121.42 383.12L122.99 387.27L124.55 390.89L126.11 393.93L127.67 396.41L129.24 398.37L130.8 399.89L132.36 401.05L133.93 401.93L135.49 402.58L137.05 403.07" fill="none" stroke="#2e3cc4" stroke-width="1.2"/><path d="M43.3 343.08V346.68M41.4 343.08H45.2M41.4 346.68H45.2" stroke="#2e3cc4" stroke-width="0.8" fill="none"/><circle cx="43.3" cy="344.88" r="1.6" fill="#2e3cc4"/><path d="M62.05 343.8V348.6M60.15 343.8H63.95M60.15 348.6H63.95" stroke="#2e3cc4" stroke-width="0.8" fill="none"/><circle cx="62.05" cy="346.2" r="1.6" fill="#2e3cc4"/><circle cx="80.8" cy="341.4" r="1.6" fill="#2e3cc4"/><circle cx="99.55" cy="343.38" r="1.6" fill="#2e3cc4"/><path d="M118.3 373.2V376.8M116.4 373.2H120.2M116.4 376.8H120.2" stroke="#2e3cc4" stroke-width="0.8" fill="none"/><circle cx="118.3" cy="375" r="1.6" fill="#2e3cc4"/><circle cx="137.05" cy="403.62" r="1.6" fill="#2e3cc4"/><line x1="35.6" y1="387.4" x2="44.5" y2="387.4" stroke="#2e3cc4" stroke-width="1.5"/><circle cx="39.8" cy="387.4" r="1.4" fill="#2e3cc4"/><text x="48.2" y="389.1" font-size="4.6" fill="#2a2a2a" class="l">CoOctβ1R</text><line x1="35.6" y1="394.8" x2="44.5" y2="394.8" stroke="#c43fe0" stroke-width="1.5"/><rect x="38.54" y="393.54" width="2.52" height="2.52" fill="#c43fe0"/><text x="48.2" y="396.5" font-size="4.6" fill="#2a2a2a" class="l">CoOctβ2R</text><line x1="35.6" y1="402.2" x2="44.5" y2="402.2" stroke="#86e040" stroke-width="1.5"/><path d="M39.8 400.38L41.62 403.6L37.98 403.6Z" fill="#86e040"/><text x="48.2" y="403.9" font-size="4.6" fill="#2a2a2a" class="l">CoOctβ3R</text></g><g><text x="177.3" y="328" font-size="8.7" font-weight="bold" class="b" fill="#1a1a1a">K</text><text transform="translate(165.7 371.7) rotate(-90) scale(1 1.12)" text-anchor="middle" font-size="5.5" font-weight="bold" class="m" fill="#1a1a1a">% of octopamine-stimulated</text><text transform="translate(172.6 371.7) rotate(-90) scale(1 1.12)" text-anchor="middle" font-size="5.5" font-weight="bold" class="m" fill="#1a1a1a">cAMP response</text><line x1="185.3" y1="409.2" x2="187.3" y2="409.2" stroke="#505050" stroke-width="1"/><text transform="translate(185.2 411.5) scale(1 1.18)" text-anchor="end" font-size="5.7" font-weight="bold" class="b" fill="#1a1a1a">0</text><line x1="185.3" y1="394.2" x2="187.3" y2="394.2" stroke="#505050" stroke-width="1"/><text transform="translate(185.2 396.5) scale(1 1.18)" text-anchor="end" font-size="5.7" font-weight="bold" class="b" fill="#1a1a1a">25</text><line x1="185.3" y1="379.2" x2="187.3" y2="379.2" stroke="#505050" stroke-width="1"/><text transform="translate(185.2 381.5) scale(1 1.18)" text-anchor="end" font-size="5.7" font-weight="bold" class="b" fill="#1a1a1a">50</text><line x1="185.3" y1="364.2" x2="187.3" y2="364.2" stroke="#505050" stroke-width="1"/><text transform="translate(185.2 366.5) scale(1 1.18)" text-anchor="end" font-size="5.7" font-weight="bold" class="b" fill="#1a1a1a">75</text><line x1="185.3" y1="349.2" x2="187.3" y2="349.2" stroke="#505050" stroke-width="1"/><text transform="translate(185.2 351.5) scale(1 1.18)" text-anchor="end" font-size="5.7" font-weight="bold" class="b" fill="#1a1a1a">100</text><line x1="185.3" y1="334.2" x2="187.3" y2="334.2" stroke="#505050" stroke-width="1"/><text transform="translate(185.2 336.5) scale(1 1.18)" text-anchor="end" font-size="5.7" font-weight="bold" class="b" fill="#1a1a1a">125</text><line x1="197.3" y1="409.2" x2="197.3" y2="411" stroke="#505050" stroke-width="1"/><text transform="translate(197.3 417.8) scale(1 1.12)" text-anchor="middle" font-size="5.8" font-weight="bold" class="b" fill="#1a1a1a">−9</text><line x1="216.05" y1="409.2" x2="216.05" y2="411" stroke="#505050" stroke-width="1"/><text transform="translate(216.05 417.8) scale(1 1.12)" text-anchor="middle" font-size="5.8" font-weight="bold" class="b" fill="#1a1a1a">−8</text><line x1="234.8" y1="409.2" x2="234.8" y2="411" stroke="#505050" stroke-width="1"/><text transform="translate(234.8 417.8) scale(1 1.12)" text-anchor="middle" font-size="5.8" font-weight="bold" class="b" fill="#1a1a1a">−7</text><line x1="253.55" y1="409.2" x2="253.55" y2="411" stroke="#505050" stroke-width="1"/><text transform="translate(253.55 417.8) scale(1 1.12)" text-anchor="middle" font-size="5.8" font-weight="bold" class="b" fill="#1a1a1a">−6</text><line x1="272.3" y1="409.2" x2="272.3" y2="411" stroke="#505050" stroke-width="1"/><text transform="translate(272.3 417.8) scale(1 1.12)" text-anchor="middle" font-size="5.8" font-weight="bold" class="b" fill="#1a1a1a">−5</text><line x1="291.05" y1="409.2" x2="291.05" y2="411" stroke="#505050" stroke-width="1"/><text transform="translate(291.05 417.8) scale(1 1.12)" text-anchor="middle" font-size="5.8" font-weight="bold" class="b" fill="#1a1a1a">−4</text><text transform="translate(244.78 425) scale(1 1.1)" text-anchor="middle" font-size="5.2" letter-spacing="0" font-weight="bold" class="b" fill="#1a1a1a">Log[Chlorprothixene](M)</text><path d="M187.3 333.7V409.4H300.3" fill="none" stroke="#505050" stroke-width="1.4"/><path d="M197.3 351.35L198.86 351.63L200.43 351.94L201.99 352.27L203.55 352.63L205.11 353.01L206.68 353.42L208.24 353.86L209.8 354.34L211.36 354.84L212.93 355.39L214.49 355.97L216.05 356.58L217.61 357.24L219.18 357.94L220.74 358.68L222.3 359.46L223.86 360.29L225.43 361.16L226.99 362.07L228.55 363.03L230.11 364.03L231.68 365.07L233.24 366.15L234.8 367.27L236.36 368.43L237.93 369.62L239.49 370.85L241.05 372.1L242.61 373.37L244.18 374.66L245.74 375.96L247.3 377.28L248.86 378.6L250.43 379.92L251.99 381.24L253.55 382.54L255.11 383.83L256.68 385.1L258.24 386.35L259.8 387.58L261.36 388.77L262.93 389.93L264.49 391.05L266.05 392.13L267.61 393.17L269.18 394.17L270.74 395.13L272.3 396.04L273.86 396.91L275.43 397.74L276.99 398.52L278.55 399.26L280.11 399.96L281.68 400.62L283.24 401.23L284.8 401.81L286.36 402.36L287.93 402.86L289.49 403.34L291.05 403.78" fill="none" stroke="#86e040" stroke-width="1.2"/><path d="M197.3 343.2V355.2M195.4 343.2H199.2M195.4 355.2H199.2" stroke="#86e040" stroke-width="0.8" fill="none"/><path d="M197.3 347.12L199.38 350.8L195.22 350.8Z" fill="#86e040"/><path d="M216.05 355.8V360.6M214.15 355.8H217.95M214.15 360.6H217.95" stroke="#86e040" stroke-width="0.8" fill="none"/><path d="M216.05 356.12L218.13 359.8L213.97 359.8Z" fill="#86e040"/><path d="M234.8 365.4V376.2M232.9 365.4H236.7M232.9 376.2H236.7" stroke="#86e040" stroke-width="0.8" fill="none"/><path d="M234.8 368.72L236.88 372.4L232.72 372.4Z" fill="#86e040"/><path d="M253.55 382.16L255.63 385.84L251.47 385.84Z" fill="#86e040"/><path d="M272.3 392.12L274.38 395.8L270.22 395.8Z" fill="#86e040"/><path d="M291.05 401.54L293.13 405.22L288.97 405.22Z" fill="#86e040"/><path d="M197.3 349.63L198.86 349.68L200.43 349.75L201.99 349.82L203.55 349.9L205.11 349.99L206.68 350.09L208.24 350.21L209.8 350.34L211.36 350.49L212.93 350.66L214.49 350.85L216.05 351.06L217.61 351.3L219.18 351.57L220.74 351.87L222.3 352.2L223.86 352.58L225.43 353L226.99 353.47L228.55 353.99L230.11 354.57L231.68 355.21L233.24 355.92L234.8 356.7L236.36 357.56L237.93 358.5L239.49 359.52L241.05 360.63L242.61 361.83L244.18 363.12L245.74 364.49L247.3 365.96L248.86 367.51L250.43 369.13L251.99 370.82L253.55 372.58L255.11 374.38L256.68 376.22L258.24 378.08L259.8 379.95L261.36 381.81L262.93 383.66L264.49 385.47L266.05 387.23L267.61 388.94L269.18 390.58L270.74 392.14L272.3 393.62L273.86 395.01L275.43 396.32L276.99 397.54L278.55 398.67L280.11 399.7L281.68 400.66L283.24 401.53L284.8 402.33L286.36 403.05L287.93 403.71L289.49 404.3L291.05 404.83" fill="none" stroke="#c43fe0" stroke-width="1.2"/><path d="M197.3 348.6V352.2M195.4 348.6H199.2M195.4 352.2H199.2" stroke="#c43fe0" stroke-width="0.8" fill="none"/><rect x="195.86" y="348.96" width="2.88" height="2.88" fill="#c43fe0"/><rect x="214.61" y="348.96" width="2.88" height="2.88" fill="#c43fe0"/><path d="M234.8 348.78V353.58M232.9 348.78H236.7M232.9 353.58H236.7" stroke="#c43fe0" stroke-width="0.8" fill="none"/><rect x="233.36" y="349.74" width="2.88" height="2.88" fill="#c43fe0"/><path d="M253.55 373.32V378.12M251.65 373.32H255.45M251.65 378.12H255.45" stroke="#c43fe0" stroke-width="0.8" fill="none"/><rect x="252.11" y="374.28" width="2.88" height="2.88" fill="#c43fe0"/><rect x="270.86" y="390.3" width="2.88" height="2.88" fill="#c43fe0"/><rect x="289.61" y="405.48" width="2.88" height="2.88" fill="#c43fe0"/><path d="M197.3 355.2L198.86 355.2L200.43 355.2L201.99 355.2L203.55 355.2L205.11 355.2L206.68 355.2L208.24 355.2L209.8 355.2L211.36 355.2L212.93 355.2L214.49 355.2L216.05 355.2L217.61 355.2L219.18 355.2L220.74 355.2L222.3 355.2L223.86 355.2L225.43 355.2L226.99 355.2L228.55 355.2L230.11 355.2L231.68 355.2L233.24 355.2L234.8 355.2L236.36 355.2L237.93 355.2L239.49 355.2L241.05 355.2L242.61 355.2L244.18 355.2L245.74 355.2L247.3 355.2L248.86 355.2L250.43 355.2L251.99 355.2L253.55 355.2L255.11 355.2L256.68 355.2L258.24 355.2L259.8 355.2L261.36 355.2L262.93 355.2L264.49 355.2L266.05 355.2L267.61 355.2L269.18 355.2L270.74 355.2L272.3 355.2L273.86 355.2L275.43 355.21L276.99 355.22L278.55 355.25L280.11 355.3L281.68 355.41L283.24 355.66L284.8 356.18L286.36 357.27L287.93 359.47L289.49 363.62L291.05 370.58" fill="none" stroke="#2e3cc4" stroke-width="1.2"/><path d="M197.3 348.78V353.58M195.4 348.78H199.2M195.4 353.58H199.2" stroke="#2e3cc4" stroke-width="0.8" fill="none"/><circle cx="197.3" cy="351.18" r="1.6" fill="#2e3cc4"/><path d="M216.05 356.4V361.2M214.15 356.4H217.95M214.15 361.2H217.95" stroke="#2e3cc4" stroke-width="0.8" fill="none"/><circle cx="216.05" cy="358.8" r="1.6" fill="#2e3cc4"/><path d="M234.8 355.8V361.8M232.9 355.8H236.7M232.9 361.8H236.7" stroke="#2e3cc4" stroke-width="0.8" fill="none"/><circle cx="234.8" cy="358.8" r="1.6" fill="#2e3cc4"/><path d="M253.55 352.08V362.88M251.65 352.08H255.45M251.65 362.88H255.45" stroke="#2e3cc4" stroke-width="0.8" fill="none"/><circle cx="253.55" cy="357.48" r="1.6" fill="#2e3cc4"/><circle cx="272.3" cy="352.92" r="1.6" fill="#2e3cc4"/><path d="M291.05 370.92V380.52M289.15 370.92H292.95M289.15 380.52H292.95" stroke="#2e3cc4" stroke-width="0.8" fill="none"/><circle cx="291.05" cy="375.72" r="1.6" fill="#2e3cc4"/><line x1="189.6" y1="387.4" x2="198.5" y2="387.4" stroke="#2e3cc4" stroke-width="1.5"/><circle cx="193.8" cy="387.4" r="1.4" fill="#2e3cc4"/><text x="202.2" y="389.1" font-size="4.6" fill="#2a2a2a" class="l">CoOctβ1R</text><line x1="189.6" y1="394.8" x2="198.5" y2="394.8" stroke="#c43fe0" stroke-width="1.5"/><rect x="192.54" y="393.54" width="2.52" height="2.52" fill="#c43fe0"/><text x="202.2" y="396.5" font-size="4.6" fill="#2a2a2a" class="l">CoOctβ2R</text><line x1="189.6" y1="402.2" x2="198.5" y2="402.2" stroke="#86e040" stroke-width="1.5"/><path d="M193.8 400.38L195.62 403.6L191.98 403.6Z" fill="#86e040"/><text x="202.2" y="403.9" font-size="4.6" fill="#2a2a2a" class="l">CoOctβ3R</text></g><g><text x="331.5" y="328" font-size="8.7" font-weight="bold" class="b" fill="#1a1a1a">L</text><text transform="translate(319.9 371.7) rotate(-90) scale(1 1.12)" text-anchor="middle" font-size="5.5" font-weight="bold" class="m" fill="#1a1a1a">% of octopamine-stimulated</text><text transform="translate(326.8 371.7) rotate(-90) scale(1 1.12)" text-anchor="middle" font-size="5.5" font-weight="bold" class="m" fill="#1a1a1a">cAMP response</text><line x1="339.5" y1="409.2" x2="341.5" y2="409.2" stroke="#505050" stroke-width="1"/><text transform="translate(339.4 411.5) scale(1 1.18)" text-anchor="end" font-size="5.7" font-weight="bold" class="b" fill="#1a1a1a">0</text><line x1="339.5" y1="394.2" x2="341.5" y2="394.2" stroke="#505050" stroke-width="1"/><text transform="translate(339.4 396.5) scale(1 1.18)" text-anchor="end" font-size="5.7" font-weight="bold" class="b" fill="#1a1a1a">25</text><line x1="339.5" y1="379.2" x2="341.5" y2="379.2" stroke="#505050" stroke-width="1"/><text transform="translate(339.4 381.5) scale(1 1.18)" text-anchor="end" font-size="5.7" font-weight="bold" class="b" fill="#1a1a1a">50</text><line x1="339.5" y1="364.2" x2="341.5" y2="364.2" stroke="#505050" stroke-width="1"/><text transform="translate(339.4 366.5) scale(1 1.18)" text-anchor="end" font-size="5.7" font-weight="bold" class="b" fill="#1a1a1a">75</text><line x1="339.5" y1="349.2" x2="341.5" y2="349.2" stroke="#505050" stroke-width="1"/><text transform="translate(339.4 351.5) scale(1 1.18)" text-anchor="end" font-size="5.7" font-weight="bold" class="b" fill="#1a1a1a">100</text><line x1="339.5" y1="334.2" x2="341.5" y2="334.2" stroke="#505050" stroke-width="1"/><text transform="translate(339.4 336.5) scale(1 1.18)" text-anchor="end" font-size="5.7" font-weight="bold" class="b" fill="#1a1a1a">125</text><line x1="351.5" y1="409.2" x2="351.5" y2="411" stroke="#505050" stroke-width="1"/><text transform="translate(351.5 417.8) scale(1 1.12)" text-anchor="middle" font-size="5.8" font-weight="bold" class="b" fill="#1a1a1a">−9</text><line x1="370.25" y1="409.2" x2="370.25" y2="411" stroke="#505050" stroke-width="1"/><text transform="translate(370.25 417.8) scale(1 1.12)" text-anchor="middle" font-size="5.8" font-weight="bold" class="b" fill="#1a1a1a">−8</text><line x1="389" y1="409.2" x2="389" y2="411" stroke="#505050" stroke-width="1"/><text transform="translate(389 417.8) scale(1 1.12)" text-anchor="middle" font-size="5.8" font-weight="bold" class="b" fill="#1a1a1a">−7</text><line x1="407.75" y1="409.2" x2="407.75" y2="411" stroke="#505050" stroke-width="1"/><text transform="translate(407.75 417.8) scale(1 1.12)" text-anchor="middle" font-size="5.8" font-weight="bold" class="b" fill="#1a1a1a">−6</text><line x1="426.5" y1="409.2" x2="426.5" y2="411" stroke="#505050" stroke-width="1"/><text transform="translate(426.5 417.8) scale(1 1.12)" text-anchor="middle" font-size="5.8" font-weight="bold" class="b" fill="#1a1a1a">−5</text><line x1="445.25" y1="409.2" x2="445.25" y2="411" stroke="#505050" stroke-width="1"/><text transform="translate(445.25 417.8) scale(1 1.12)" text-anchor="middle" font-size="5.8" font-weight="bold" class="b" fill="#1a1a1a">−4</text><text transform="translate(398.98 425) scale(1 1.1)" text-anchor="middle" font-size="5.2" letter-spacing="0" font-weight="bold" class="b" fill="#1a1a1a">Log[Doxepin](M)</text><path d="M341.6 333.7V409.4H454.5" fill="none" stroke="#505050" stroke-width="1.4"/><path d="M351.5 358.29L353.06 358.31L354.62 358.34L356.19 358.38L357.75 358.43L359.31 358.48L360.88 358.56L362.44 358.65L364 358.76L365.56 358.91L367.12 359.09L368.69 359.31L370.25 359.59L371.81 359.93L373.38 360.35L374.94 360.87L376.5 361.51L378.06 362.28L379.62 363.2L381.19 364.3L382.75 365.58L384.31 367.06L385.88 368.75L387.44 370.62L389 372.66L390.56 374.84L392.12 377.09L393.69 379.37L395.25 381.61L396.81 383.76L398.38 385.77L399.94 387.6L401.5 389.25L403.06 390.69L404.62 391.94L406.19 393L407.75 393.89L409.31 394.63L410.88 395.24L412.44 395.74L414 396.14L415.56 396.47L417.12 396.74L418.69 396.95L420.25 397.12L421.81 397.26L423.38 397.37L424.94 397.46L426.5 397.53L428.06 397.58L429.62 397.63L431.19 397.66L432.75 397.69L434.31 397.71L435.88 397.73L437.44 397.75L439 397.76L440.56 397.77L442.12 397.77L443.69 397.78L445.25 397.78" fill="none" stroke="#86e040" stroke-width="1.2"/><path d="M351.5 354.12V368.52M349.6 354.12H353.4M349.6 368.52H353.4" stroke="#86e040" stroke-width="0.8" fill="none"/><path d="M351.5 359.24L353.58 362.92L349.42 362.92Z" fill="#86e040"/><path d="M370.25 355.2V361.2M368.35 355.2H372.15M368.35 361.2H372.15" stroke="#86e040" stroke-width="0.8" fill="none"/><path d="M370.25 356.12L372.33 359.8L368.17 359.8Z" fill="#86e040"/><path d="M389 369.6V376.8M387.1 369.6H390.9M387.1 376.8H390.9" stroke="#86e040" stroke-width="0.8" fill="none"/><path d="M389 371.12L391.08 374.8L386.92 374.8Z" fill="#86e040"/><path d="M407.75 390.96V394.56M405.85 390.96H409.65M405.85 394.56H409.65" stroke="#86e040" stroke-width="0.8" fill="none"/><path d="M407.75 390.68L409.83 394.36L405.67 394.36Z" fill="#86e040"/><path d="M426.5 396V399.6M424.6 396H428.4M424.6 399.6H428.4" stroke="#86e040" stroke-width="0.8" fill="none"/><path d="M426.5 395.72L428.58 399.4L424.42 399.4Z" fill="#86e040"/><path d="M445.25 395.72L447.33 399.4L443.17 399.4Z" fill="#86e040"/><path d="M351.5 349.27L353.06 349.28L354.62 349.3L356.19 349.31L357.75 349.33L359.31 349.36L360.88 349.39L362.44 349.43L364 349.47L365.56 349.52L367.12 349.58L368.69 349.65L370.25 349.73L371.81 349.83L373.38 349.95L374.94 350.09L376.5 350.25L378.06 350.45L379.62 350.68L381.19 350.95L382.75 351.26L384.31 351.64L385.88 352.07L387.44 352.58L389 353.18L390.56 353.86L392.12 354.66L393.69 355.57L395.25 356.62L396.81 357.81L398.38 359.15L399.94 360.64L401.5 362.3L403.06 364.13L404.62 366.11L406.19 368.23L407.75 370.48L409.31 372.83L410.88 375.25L412.44 377.7L414 380.15L415.56 382.57L417.12 384.92L418.69 387.17L420.25 389.29L421.81 391.27L423.38 393.1L424.94 394.76L426.5 396.25L428.06 397.59L429.62 398.78L431.19 399.83L432.75 400.74L434.31 401.54L435.88 402.22L437.44 402.82L439 403.33L440.56 403.76L442.12 404.14L443.69 404.45L445.25 404.72" fill="none" stroke="#c43fe0" stroke-width="1.2"/><path d="M351.5 348.18V354.18M349.6 348.18H353.4M349.6 354.18H353.4" stroke="#c43fe0" stroke-width="0.8" fill="none"/><rect x="350.06" y="349.74" width="2.88" height="2.88" fill="#c43fe0"/><path d="M370.25 344.4V351.6M368.35 344.4H372.15M368.35 351.6H372.15" stroke="#c43fe0" stroke-width="0.8" fill="none"/><rect x="368.81" y="346.56" width="2.88" height="2.88" fill="#c43fe0"/><path d="M389 352.5V358.5M387.1 352.5H390.9M387.1 358.5H390.9" stroke="#c43fe0" stroke-width="0.8" fill="none"/><rect x="387.56" y="354.06" width="2.88" height="2.88" fill="#c43fe0"/><path d="M407.75 365.4V372.6M405.85 365.4H409.65M405.85 372.6H409.65" stroke="#c43fe0" stroke-width="0.8" fill="none"/><rect x="406.31" y="367.56" width="2.88" height="2.88" fill="#c43fe0"/><rect x="425.06" y="392.76" width="2.88" height="2.88" fill="#c43fe0"/><path d="M445.25 399.48V404.28M443.35 399.48H447.15M443.35 404.28H447.15" stroke="#c43fe0" stroke-width="0.8" fill="none"/><rect x="443.81" y="400.44" width="2.88" height="2.88" fill="#c43fe0"/><path d="M351.5 344.84L353.06 344.9L354.62 344.97L356.19 345.05L357.75 345.14L359.31 345.25L360.88 345.37L362.44 345.5L364 345.66L365.56 345.83L367.12 346.04L368.69 346.26L370.25 346.52L371.81 346.82L373.38 347.15L374.94 347.53L376.5 347.95L378.06 348.43L379.62 348.97L381.19 349.57L382.75 350.25L384.31 351.01L385.88 351.85L387.44 352.78L389 353.81L390.56 354.94L392.12 356.18L393.69 357.53L395.25 358.99L396.81 360.57L398.38 362.25L399.94 364.04L401.5 365.92L403.06 367.9L404.62 369.94L406.19 372.05L407.75 374.19L409.31 376.36L410.88 378.54L412.44 380.7L414 382.82L415.56 384.89L417.12 386.9L418.69 388.82L420.25 390.65L421.81 392.37L423.38 393.99L424.94 395.5L426.5 396.89L428.06 398.18L429.62 399.35L431.19 400.42L432.75 401.39L434.31 402.27L435.88 403.06L437.44 403.77L439 404.4L440.56 404.96L442.12 405.46L443.69 405.91L445.25 406.3" fill="none" stroke="#2e3cc4" stroke-width="1.2"/><path d="M351.5 340.56V350.16M349.6 340.56H353.4M349.6 350.16H353.4" stroke="#2e3cc4" stroke-width="0.8" fill="none"/><circle cx="351.5" cy="345.36" r="1.6" fill="#2e3cc4"/><path d="M370.25 342.18V346.98M368.35 342.18H372.15M368.35 346.98H372.15" stroke="#2e3cc4" stroke-width="0.8" fill="none"/><circle cx="370.25" cy="344.58" r="1.6" fill="#2e3cc4"/><path d="M389 357.42V361.02M387.1 357.42H390.9M387.1 361.02H390.9" stroke="#2e3cc4" stroke-width="0.8" fill="none"/><circle cx="389" cy="359.22" r="1.6" fill="#2e3cc4"/><path d="M407.75 364.44V369.24M405.85 364.44H409.65M405.85 369.24H409.65" stroke="#2e3cc4" stroke-width="0.8" fill="none"/><circle cx="407.75" cy="366.84" r="1.6" fill="#2e3cc4"/><path d="M426.5 392.4V396M424.6 392.4H428.4M424.6 396H428.4" stroke="#2e3cc4" stroke-width="0.8" fill="none"/><circle cx="426.5" cy="394.2" r="1.6" fill="#2e3cc4"/><path d="M445.25 404.4V408M443.35 404.4H447.15M443.35 408H447.15" stroke="#2e3cc4" stroke-width="0.8" fill="none"/><circle cx="445.25" cy="406.2" r="1.6" fill="#2e3cc4"/><line x1="343.8" y1="387.4" x2="352.7" y2="387.4" stroke="#2e3cc4" stroke-width="1.5"/><circle cx="348" cy="387.4" r="1.4" fill="#2e3cc4"/><text x="356.4" y="389.1" font-size="4.6" fill="#2a2a2a" class="l">CoOctβ1R</text><line x1="343.8" y1="394.8" x2="352.7" y2="394.8" stroke="#c43fe0" stroke-width="1.5"/><rect x="346.74" y="393.54" width="2.52" height="2.52" fill="#c43fe0"/><text x="356.4" y="396.5" font-size="4.6" fill="#2a2a2a" class="l">CoOctβ2R</text><line x1="343.8" y1="402.2" x2="352.7" y2="402.2" stroke="#86e040" stroke-width="1.5"/><path d="M348 400.38L349.82 403.6L346.18 403.6Z" fill="#86e040"/><text x="356.4" y="403.9" font-size="4.6" fill="#2a2a2a" class="l">CoOctβ3R</text></g>
</svg></body></html>
